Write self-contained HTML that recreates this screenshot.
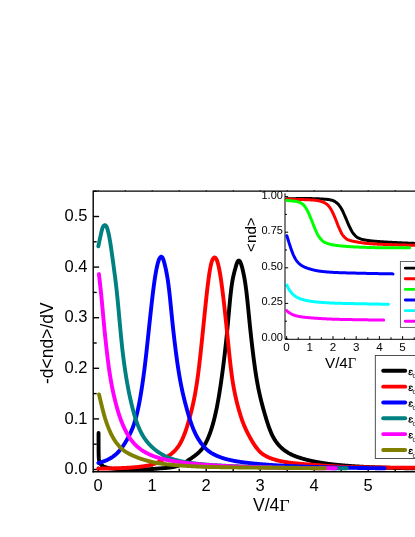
<!DOCTYPE html>
<html><head><meta charset="utf-8"><title>plot</title>
<style>html,body{margin:0;padding:0;background:#fff;}body{width:415px;height:537px;overflow:hidden;position:relative;}svg{position:absolute;left:0;top:0;display:block;will-change:transform;transform:translateZ(0);}text{font-family:"Liberation Sans",sans-serif;fill:#000;}.sf{font-family:"Liberation Serif",serif;}</style></head><body>
<svg width="415" height="537" viewBox="0 0 415 537">
<rect x="0" y="0" width="415" height="537" fill="#fff"/>
<g stroke="#000" stroke-width="1.4" fill="none" stroke-linecap="butt">
<path d="M93.2 472.4 L93.2 191.15 L416 191.15"/>
<path d="M92.5 471.7 L416 471.7"/>
<path d="M93.2 469.50 h5.9"/>
<path d="M93.2 444.20 h3.5"/>
<path d="M93.2 418.90 h5.9"/>
<path d="M93.2 393.60 h3.5"/>
<path d="M93.2 368.30 h5.9"/>
<path d="M93.2 343.00 h3.5"/>
<path d="M93.2 317.70 h5.9"/>
<path d="M93.2 292.40 h3.5"/>
<path d="M93.2 267.10 h5.9"/>
<path d="M93.2 241.80 h3.5"/>
<path d="M93.2 216.50 h5.9"/>
<path d="M93.2 191.20 h3.5"/>
<path d="M98.20 471.7 v-5.2"/>
<path d="M125.20 471.7 v-3.0"/>
<path d="M152.20 471.7 v-5.2"/>
<path d="M179.20 471.7 v-3.0"/>
<path d="M206.20 471.7 v-5.2"/>
<path d="M233.20 471.7 v-3.0"/>
<path d="M260.20 471.7 v-5.2"/>
<path d="M287.20 471.7 v-3.0"/>
<path d="M314.20 471.7 v-5.2"/>
<path d="M341.20 471.7 v-3.0"/>
<path d="M368.20 471.7 v-5.2"/>
<path d="M395.20 471.7 v-3.0"/>
</g>
<g stroke="#000" stroke-width="0.9" fill="none">
<path d="M98.20 191.15 v-1.1"/>
<path d="M125.20 191.15 v-1.1"/>
<path d="M152.20 191.15 v-1.1"/>
<path d="M179.20 191.15 v-1.1"/>
<path d="M206.20 191.15 v-1.1"/>
<path d="M233.20 191.15 v-1.1"/>
<path d="M260.20 191.15 v-1.1"/>
<path d="M287.20 191.15 v-1.1"/>
<path d="M314.20 191.15 v-1.1"/>
<path d="M341.20 191.15 v-1.1"/>
<path d="M368.20 191.15 v-1.1"/>
<path d="M395.20 191.15 v-1.1"/>
</g>
<g fill="none" stroke-linecap="round" stroke-linejoin="round" stroke-width="3.90">
<path d="M98.55 432.90 L98.55 433.40 L98.55 433.90 L98.55 434.40 L98.55 434.90 L98.55 435.40 L98.55 435.90 L98.55 436.40 L98.55 436.90 L98.55 437.40 L98.55 437.90 L98.56 438.40 L98.56 438.90 L98.56 439.40 L98.56 439.90 L98.56 440.40 L98.56 440.90 L98.56 441.40 L98.56 441.90 L98.57 442.40 L98.57 442.90 L98.57 443.40 L98.57 443.90 L98.57 444.40 L98.57 444.90 L98.58 445.40 L98.58 445.90 L98.58 446.40 L98.58 446.90 L98.59 447.40 L98.59 447.90 L98.59 448.40 L98.59 448.90 L98.60 449.40 L98.60 449.90 L98.60 450.40 L98.61 450.90 L98.61 451.40 L98.62 451.90 L98.63 452.40 L98.63 452.91 L98.64 453.41 L98.66 453.91 L98.67 454.41 L98.68 454.91 L98.70 455.41 L98.71 455.91 L98.73 456.41 L98.75 456.91 L98.77 457.40 L98.80 457.90 L98.83 458.40 L98.88 458.90 L98.94 459.40 L99.03 459.91 L99.13 460.41 L99.24 460.90 L99.36 461.39 L99.49 461.86 L99.64 462.31 L99.82 462.76 L100.06 463.21 L100.34 463.65 L100.65 464.08 L100.98 464.47 L101.32 464.83 L101.67 465.15 L102.04 465.45 L102.45 465.74 L102.88 466.01 L103.33 466.27 L103.80 466.50 L104.26 466.71 L104.73 466.90 L105.19 467.07 L105.65 467.22 L106.12 467.37 L106.60 467.52 L107.08 467.65 L107.57 467.79 L108.06 467.91 L108.55 468.03 L109.05 468.14 L109.54 468.24 L110.04 468.33 L110.54 468.42 L111.04 468.49 L111.53 468.55 L112.03 468.60 L112.52 468.65 L113.01 468.69 L113.51 468.74 L114.00 468.78 L114.50 468.82 L115.00 468.86 L115.50 468.90 L115.99 468.94 L116.49 468.97 L116.99 469.01 L117.49 469.04 L117.99 469.07 L118.49 469.10 L119.00 469.13 L119.50 469.15 L120.00 469.18 L120.50 469.20 L121.00 469.22 L121.50 469.24 L122.00 469.25 L122.51 469.27 L123.01 469.28 L123.51 469.29 L124.01 469.29 L124.51 469.30 L125.01 469.30 L125.51 469.30 L126.01 469.30 L126.51 469.30 L127.01 469.30 L127.51 469.30 L128.01 469.30 L128.51 469.30 L129.01 469.30 L129.51 469.30 L130.01 469.30 L130.51 469.30 L131.01 469.30 L131.51 469.30 L132.01 469.30 L132.51 469.30 L133.01 469.30 L133.51 469.30 L134.01 469.30 L134.51 469.30 L135.01 469.30 L135.51 469.30 L136.01 469.30 L136.51 469.30 L137.01 469.30 L137.51 469.30 L138.01 469.30 L138.51 469.30 L139.01 469.30 L139.51 469.30 L140.01 469.30 L140.51 469.30 L141.01 469.30 L141.51 469.30 L142.01 469.30 L142.51 469.30 L143.01 469.30 L143.51 469.30 L144.01 469.30 L144.51 469.30 L145.01 469.30 L145.51 469.30 L146.01 469.29 L146.51 469.29 L147.01 469.28 L147.50 469.26 L148.00 469.25 L148.50 469.23 L149.00 469.21 L149.50 469.19 L150.00 469.16 L150.50 469.13 L151.00 469.10 L151.50 469.07 L152.00 469.04 L152.50 469.01 L153.00 468.97 L153.50 468.94 L153.99 468.90 L154.49 468.86 L154.99 468.82 L155.49 468.78 L155.99 468.74 L156.49 468.69 L156.99 468.65 L157.49 468.61 L157.99 468.56 L158.48 468.52 L158.98 468.48 L159.48 468.43 L159.98 468.39 L160.00 468.39 L160.40 468.36 L160.80 468.34 L161.20 468.31 L161.60 468.29 L162.00 468.26 L162.40 468.23 L162.80 468.20 L163.20 468.18 L163.60 468.15 L164.00 468.11 L164.40 468.08 L164.80 468.05 L165.20 468.01 L165.60 467.98 L166.00 467.94 L166.40 467.91 L166.80 467.87 L167.20 467.83 L167.60 467.79 L168.00 467.75 L168.40 467.70 L168.80 467.66 L169.20 467.61 L169.60 467.56 L170.00 467.51 L170.40 467.46 L170.80 467.40 L171.20 467.34 L171.60 467.28 L172.00 467.22 L172.40 467.15 L172.80 467.08 L173.20 467.00 L173.60 466.93 L174.00 466.85 L174.40 466.76 L174.80 466.67 L175.20 466.58 L175.60 466.48 L176.00 466.38 L176.40 466.27 L176.80 466.16 L177.20 466.04 L177.60 465.92 L178.00 465.79 L178.40 465.65 L178.80 465.51 L179.20 465.37 L179.60 465.21 L180.00 465.05 L180.40 464.89 L180.80 464.71 L181.20 464.53 L181.60 464.34 L182.00 464.15 L182.40 463.94 L182.80 463.73 L183.20 463.52 L183.60 463.29 L184.00 463.06 L184.40 462.82 L184.80 462.58 L185.20 462.32 L185.60 462.07 L186.00 461.81 L186.40 461.54 L186.80 461.28 L187.20 461.01 L187.60 460.74 L188.00 460.47 L188.40 460.20 L188.80 459.93 L189.20 459.67 L189.60 459.40 L190.00 459.14 L190.40 458.87 L190.80 458.59 L191.20 458.32 L191.60 458.04 L192.00 457.76 L192.40 457.48 L192.80 457.19 L193.20 456.90 L193.60 456.61 L194.00 456.32 L194.40 456.02 L194.80 455.72 L195.20 455.41 L195.60 455.10 L196.00 454.79 L196.40 454.47 L196.80 454.14 L197.20 453.81 L197.60 453.46 L198.00 453.11 L198.40 452.75 L198.80 452.38 L199.20 452.00 L199.60 451.61 L200.00 451.20 L200.40 450.77 L200.80 450.33 L201.20 449.87 L201.60 449.39 L202.00 448.88 L202.40 448.35 L202.80 447.78 L203.20 447.20 L203.60 446.59 L204.00 445.95 L204.40 445.30 L204.80 444.62 L205.20 443.92 L205.60 443.19 L206.00 442.43 L206.40 441.65 L206.80 440.84 L207.20 439.99 L207.60 439.12 L208.00 438.21 L208.40 437.27 L208.80 436.30 L209.20 435.29 L209.60 434.24 L210.00 433.16 L210.40 432.04 L210.80 430.87 L211.20 429.67 L211.60 428.42 L212.00 427.13 L212.40 425.80 L212.80 424.41 L213.20 422.98 L213.60 421.50 L214.00 419.97 L214.40 418.38 L214.80 416.73 L215.20 415.02 L215.60 413.25 L216.00 411.42 L216.40 409.53 L216.80 407.57 L217.20 405.54 L217.60 403.44 L218.00 401.27 L218.40 399.03 L218.80 396.72 L219.20 394.33 L219.60 391.86 L220.00 389.31 L220.40 386.69 L220.80 383.98 L221.20 381.21 L221.60 378.38 L222.00 375.49 L222.40 372.54 L222.80 369.52 L223.20 366.43 L223.60 363.27 L224.00 360.03 L224.40 356.72 L224.80 353.31 L225.20 349.82 L225.60 346.23 L226.00 342.55 L226.40 338.77 L226.80 334.89 L227.20 330.85 L227.60 326.63 L228.00 322.27 L228.40 317.84 L228.80 313.37 L229.20 308.93 L229.60 304.59 L230.00 300.39 L230.40 296.40 L230.80 292.67 L231.20 289.25 L231.60 286.16 L232.00 283.43 L232.40 281.02 L232.80 278.87 L233.20 276.92 L233.60 275.14 L234.00 273.47 L234.40 271.89 L234.80 270.37 L235.20 268.89 L235.60 267.43 L236.00 266.01 L236.40 264.67 L236.80 263.47 L237.20 262.45 L237.60 261.64 L238.00 261.06 L238.40 260.71 L238.80 260.60 L239.20 260.71 L239.60 261.03 L240.00 261.55 L240.40 262.28 L240.80 263.20 L241.20 264.30 L241.60 265.58 L242.00 267.01 L242.40 268.56 L242.80 270.21 L243.20 271.97 L243.60 273.85 L244.00 275.85 L244.40 277.99 L244.80 280.30 L245.20 282.79 L245.60 285.49 L246.00 288.43 L246.40 291.63 L246.80 295.05 L247.20 298.67 L247.60 302.46 L248.00 306.38 L248.40 310.39 L248.80 314.44 L249.20 318.50 L249.60 322.53 L250.00 326.48 L250.40 330.34 L250.80 334.06 L251.20 337.68 L251.60 341.24 L252.00 344.73 L252.40 348.15 L252.80 351.49 L253.20 354.75 L253.60 357.92 L254.00 361.00 L254.40 363.98 L254.80 366.88 L255.20 369.67 L255.60 372.37 L256.00 374.97 L256.40 377.48 L256.80 379.89 L257.20 382.20 L257.60 384.40 L258.00 386.51 L258.40 388.54 L258.80 390.48 L259.20 392.36 L259.60 394.16 L260.00 395.91 L260.40 397.61 L260.80 399.26 L261.20 400.87 L261.60 402.44 L262.00 403.98 L262.40 405.49 L262.80 406.97 L263.20 408.43 L263.60 409.86 L264.00 411.28 L264.40 412.68 L264.80 414.07 L265.20 415.44 L265.60 416.80 L266.00 418.14 L266.40 419.47 L266.80 420.76 L267.20 422.03 L267.60 423.28 L268.00 424.49 L268.40 425.67 L268.80 426.81 L269.20 427.93 L269.60 429.00 L270.00 430.04 L270.40 431.05 L270.80 432.02 L271.20 432.96 L271.60 433.86 L272.00 434.72 L272.40 435.55 L272.80 436.35 L273.20 437.11 L273.60 437.84 L274.00 438.53 L274.40 439.20 L274.80 439.83 L275.20 440.44 L275.60 441.03 L276.00 441.59 L276.40 442.15 L276.80 442.68 L277.20 443.20 L277.60 443.70 L278.00 444.18 L278.40 444.65 L278.80 445.11 L279.20 445.55 L279.60 445.98 L280.00 446.40 L280.40 446.80 L280.80 447.20 L281.20 447.58 L281.60 447.95 L282.00 448.31 L282.40 448.66 L282.80 449.00 L283.20 449.34 L283.60 449.66 L284.00 449.97 L284.40 450.28 L284.80 450.58 L285.20 450.87 L285.60 451.15 L286.00 451.43 L286.40 451.70 L286.80 451.96 L287.20 452.21 L287.60 452.46 L288.00 452.71 L288.40 452.94 L288.80 453.18 L289.20 453.40 L289.60 453.62 L290.00 453.83 L290.40 454.04 L290.80 454.24 L291.20 454.44 L291.60 454.63 L292.00 454.82 L292.40 455.01 L292.80 455.18 L293.20 455.36 L293.60 455.53 L294.00 455.70 L294.40 455.86 L294.80 456.02 L295.20 456.18 L295.60 456.33 L296.00 456.48 L296.40 456.63 L296.80 456.78 L297.20 456.92 L297.60 457.06 L298.00 457.20 L298.40 457.33 L298.80 457.46 L299.20 457.59 L299.60 457.72 L300.00 457.85 L300.40 457.98 L300.80 458.10 L301.20 458.22 L301.60 458.34 L302.00 458.46 L302.40 458.57 L302.80 458.69 L303.20 458.80 L303.60 458.91 L304.00 459.02 L304.40 459.13 L304.80 459.24 L305.20 459.35 L305.60 459.46 L306.00 459.56 L306.40 459.67 L306.80 459.77 L307.20 459.87 L307.60 459.97 L308.00 460.07 L308.40 460.17 L308.80 460.27 L309.20 460.37 L309.60 460.46 L310.00 460.56 L310.40 460.65 L310.80 460.74 L311.20 460.83 L311.60 460.92 L312.00 461.01 L312.40 461.10 L312.80 461.18 L313.20 461.27 L313.60 461.35 L314.00 461.44 L314.40 461.52 L314.80 461.60 L315.20 461.68 L315.60 461.76 L316.00 461.83 L316.40 461.91 L316.80 461.98 L317.20 462.06 L317.60 462.13 L318.00 462.20 L318.40 462.28 L318.80 462.35 L319.20 462.42 L319.60 462.49 L320.00 462.55 L320.40 462.62 L320.80 462.69 L321.20 462.75 L321.60 462.82 L322.00 462.88 L322.40 462.95 L322.80 463.01 L323.20 463.07 L323.60 463.13 L324.00 463.19 L324.40 463.25 L324.80 463.31 L325.20 463.37 L325.60 463.43 L326.00 463.48 L326.40 463.54 L326.80 463.59 L327.20 463.65 L327.60 463.70 L328.00 463.76 L328.40 463.81 L328.80 463.86 L329.20 463.91 L329.60 463.96 L330.00 464.02 L330.40 464.07 L330.80 464.11 L331.20 464.16 L331.60 464.21 L332.00 464.26 L332.40 464.31 L332.80 464.35 L333.20 464.40 L333.60 464.45 L334.00 464.49 L334.40 464.54 L334.80 464.58 L335.20 464.62 L335.60 464.67 L336.00 464.71 L336.40 464.75 L336.80 464.80 L337.20 464.84 L337.60 464.88 L338.00 464.92 L338.40 464.96 L338.80 465.00 L339.20 465.04 L339.60 465.08 L340.00 465.12 L340.40 465.15 L340.80 465.19 L341.20 465.23 L341.60 465.27 L342.00 465.30 L342.40 465.34 L342.80 465.38 L343.20 465.41 L343.60 465.45 L344.00 465.48 L344.40 465.52 L344.80 465.55 L345.20 465.58 L345.60 465.62 L346.00 465.65 L346.40 465.68 L346.80 465.72 L347.20 465.75 L347.60 465.78 L348.00 465.81 L348.40 465.84 L348.80 465.87 L349.20 465.90 L349.60 465.93 L350.00 465.96 L350.40 465.99 L350.80 466.02 L351.20 466.05 L351.60 466.08 L352.00 466.11 L352.40 466.13 L352.80 466.16 L353.20 466.19 L353.60 466.22 L354.00 466.24 L354.40 466.27 L354.80 466.30 L355.20 466.32 L355.60 466.35 L356.00 466.37 L356.40 466.40 L356.80 466.42 L357.20 466.45 L357.60 466.47 L358.00 466.50 L358.40 466.52 L358.80 466.55 L359.20 466.57 L359.60 466.59 L360.00 466.62 L360.40 466.64 L360.80 466.66 L361.20 466.68 L361.60 466.71 L362.00 466.73 L362.40 466.75 L362.80 466.77 L363.20 466.79 L363.60 466.81 L364.00 466.83 L364.40 466.85 L364.80 466.87 L365.20 466.89 L365.60 466.91 L366.00 466.93 L366.40 466.95 L366.80 466.97 L367.20 466.99 L367.60 467.01 L368.00 467.03 L368.40 467.05 L368.80 467.07 L369.20 467.09 L369.60 467.10 L370.00 467.12 L370.40 467.14 L370.80 467.16 L371.20 467.17 L371.60 467.19 L372.00 467.21 L372.40 467.23 L372.80 467.24 L373.20 467.26 L373.60 467.27 L374.00 467.29 L374.40 467.31 L374.80 467.32 L375.20 467.34 L375.60 467.35 L376.00 467.37 L376.40 467.39 L376.80 467.40 L377.20 467.42 L377.60 467.43 L378.00 467.44 L378.40 467.46 L378.80 467.47 L379.20 467.49 L379.60 467.50 L380.00 467.52 L380.40 467.53 L380.80 467.54 L381.20 467.56 L381.60 467.57 L382.00 467.58 L382.40 467.60 L382.80 467.61 L383.20 467.62 L383.60 467.64 L384.00 467.65 L384.40 467.66 L384.80 467.68 L385.20 467.69 L385.60 467.70 L386.00 467.71 L386.40 467.72 L386.80 467.74 L387.20 467.75 L387.60 467.76 L388.00 467.77 L388.40 467.78 L388.80 467.80 L389.20 467.81 L389.60 467.82 L390.00 467.83 L390.40 467.84 L390.80 467.85 L391.20 467.86 L391.60 467.87 L392.00 467.88 L392.40 467.90 L392.80 467.91 L393.20 467.92 L393.60 467.93 L394.00 467.94 L394.40 467.95 L394.80 467.96 L395.20 467.97 L395.60 467.98 L396.00 467.99 L396.40 468.00 L396.80 468.01 L397.20 468.02 L397.60 468.03 L398.00 468.04 L398.40 468.05 L398.80 468.06 L399.20 468.06 L399.60 468.07 L400.00 468.08 L400.40 468.09 L400.80 468.10 L401.20 468.11 L401.60 468.12 L402.00 468.13 L402.40 468.14 L402.80 468.15 L403.20 468.15 L403.60 468.16 L404.00 468.17 L404.40 468.18 L404.80 468.19 L405.20 468.20 L405.60 468.20 L406.00 468.21 L406.40 468.22 L406.80 468.23 L407.20 468.24 L407.60 468.24 L408.00 468.25 L408.40 468.26 L408.80 468.27 L409.20 468.27 L409.60 468.28 L410.00 468.29 L410.40 468.30 L410.80 468.30 L411.20 468.31 L411.60 468.32 L412.00 468.33 L412.40 468.33 L412.80 468.34 L413.20 468.35 L413.60 468.35 L414.00 468.36 L414.40 468.37 L414.80 468.37 L415.20 468.38 L415.60 468.39 L416.00 468.39" stroke="#000000"/>
<path d="M98.30 468.65 L98.70 468.64 L99.10 468.64 L99.50 468.63 L99.90 468.62 L100.30 468.62 L100.70 468.61 L101.10 468.60 L101.50 468.60 L101.90 468.59 L102.30 468.58 L102.70 468.57 L103.10 468.57 L103.50 468.56 L103.90 468.55 L104.30 468.54 L104.70 468.54 L105.10 468.53 L105.50 468.52 L105.90 468.51 L106.30 468.50 L106.70 468.50 L107.10 468.49 L107.50 468.48 L107.90 468.47 L108.30 468.46 L108.70 468.45 L109.10 468.44 L109.50 468.44 L109.90 468.43 L110.30 468.42 L110.70 468.41 L111.10 468.40 L111.50 468.39 L111.90 468.38 L112.30 468.37 L112.70 468.36 L113.10 468.35 L113.50 468.34 L113.90 468.33 L114.30 468.31 L114.70 468.30 L115.10 468.29 L115.50 468.28 L115.90 468.27 L116.30 468.26 L116.70 468.24 L117.10 468.23 L117.50 468.22 L117.90 468.20 L118.30 468.19 L118.70 468.18 L119.10 468.16 L119.50 468.15 L119.90 468.13 L120.30 468.12 L120.70 468.10 L121.10 468.09 L121.50 468.07 L121.90 468.05 L122.30 468.04 L122.70 468.02 L123.10 468.00 L123.50 467.98 L123.90 467.96 L124.30 467.95 L124.70 467.93 L125.10 467.91 L125.50 467.89 L125.90 467.87 L126.30 467.84 L126.70 467.82 L127.10 467.80 L127.50 467.78 L127.90 467.75 L128.30 467.73 L128.70 467.71 L129.10 467.68 L129.50 467.66 L129.90 467.63 L130.30 467.60 L130.70 467.58 L131.10 467.55 L131.50 467.52 L131.90 467.49 L132.30 467.46 L132.70 467.43 L133.10 467.40 L133.50 467.37 L133.90 467.33 L134.30 467.30 L134.70 467.27 L135.10 467.23 L135.50 467.20 L135.90 467.16 L136.30 467.12 L136.70 467.08 L137.10 467.05 L137.50 467.01 L137.90 466.96 L138.30 466.92 L138.70 466.88 L139.10 466.84 L139.50 466.79 L139.90 466.74 L140.30 466.70 L140.70 466.65 L141.10 466.60 L141.50 466.55 L141.90 466.50 L142.30 466.45 L142.70 466.39 L143.10 466.34 L143.50 466.28 L143.90 466.22 L144.30 466.16 L144.70 466.10 L145.10 466.04 L145.50 465.98 L145.90 465.91 L146.30 465.84 L146.70 465.77 L147.10 465.69 L147.50 465.62 L147.90 465.54 L148.30 465.45 L148.70 465.37 L149.10 465.28 L149.50 465.19 L149.90 465.09 L150.30 464.99 L150.70 464.89 L151.10 464.78 L151.50 464.67 L151.90 464.56 L152.30 464.44 L152.70 464.32 L153.10 464.20 L153.50 464.07 L153.90 463.93 L154.30 463.80 L154.70 463.65 L155.10 463.51 L155.50 463.36 L155.90 463.20 L156.30 463.04 L156.70 462.87 L157.10 462.70 L157.50 462.53 L157.90 462.35 L158.30 462.16 L158.70 461.97 L159.10 461.78 L159.50 461.58 L159.90 461.37 L160.30 461.16 L160.70 460.95 L161.10 460.73 L161.50 460.50 L161.90 460.27 L162.30 460.04 L162.70 459.81 L163.10 459.57 L163.50 459.33 L163.90 459.08 L164.30 458.83 L164.70 458.58 L165.10 458.33 L165.50 458.08 L165.90 457.82 L166.30 457.56 L166.70 457.29 L167.10 457.02 L167.50 456.75 L167.90 456.47 L168.30 456.19 L168.70 455.90 L169.10 455.61 L169.50 455.31 L169.90 455.01 L170.30 454.70 L170.70 454.38 L171.10 454.06 L171.50 453.73 L171.90 453.40 L172.30 453.05 L172.70 452.70 L173.10 452.34 L173.50 451.97 L173.90 451.59 L174.30 451.20 L174.70 450.79 L175.10 450.38 L175.50 449.94 L175.90 449.50 L176.30 449.04 L176.70 448.55 L177.10 448.06 L177.50 447.54 L177.90 446.99 L178.30 446.43 L178.70 445.83 L179.10 445.22 L179.50 444.57 L179.90 443.90 L180.30 443.20 L180.70 442.48 L181.10 441.72 L181.50 440.94 L181.90 440.13 L182.30 439.28 L182.70 438.40 L183.10 437.49 L183.50 436.55 L183.90 435.57 L184.30 434.56 L184.70 433.51 L185.10 432.43 L185.50 431.31 L185.90 430.16 L186.30 428.97 L186.70 427.75 L187.10 426.49 L187.50 425.20 L187.90 423.88 L188.30 422.53 L188.70 421.15 L189.10 419.74 L189.50 418.30 L189.90 416.83 L190.30 415.34 L190.70 413.81 L191.10 412.24 L191.50 410.64 L191.90 408.99 L192.30 407.30 L192.70 405.56 L193.10 403.76 L193.50 401.90 L193.90 399.98 L194.30 397.99 L194.70 395.92 L195.10 393.77 L195.50 391.52 L195.90 389.18 L196.30 386.72 L196.70 384.15 L197.10 381.45 L197.50 378.64 L197.90 375.70 L198.30 372.65 L198.70 369.48 L199.10 366.20 L199.50 362.82 L199.90 359.33 L200.30 355.75 L200.70 352.09 L201.10 348.36 L201.50 344.57 L201.90 340.73 L202.30 336.87 L202.70 332.99 L203.10 329.08 L203.50 325.15 L203.90 321.20 L204.30 317.25 L204.70 313.31 L205.10 309.40 L205.50 305.53 L205.90 301.71 L206.30 297.97 L206.70 294.32 L207.10 290.78 L207.50 287.36 L207.90 284.07 L208.30 280.91 L208.70 277.90 L209.10 275.05 L209.50 272.40 L209.90 269.96 L210.30 267.75 L210.70 265.76 L211.10 264.01 L211.50 262.50 L211.90 261.22 L212.30 260.17 L212.70 259.31 L213.10 258.63 L213.50 258.11 L213.90 257.75 L214.30 257.55 L214.70 257.51 L215.10 257.63 L215.50 257.93 L215.90 258.40 L216.30 259.03 L216.70 259.84 L217.10 260.82 L217.50 262.00 L217.90 263.36 L218.30 264.89 L218.70 266.60 L219.10 268.48 L219.50 270.53 L219.90 272.75 L220.30 275.13 L220.70 277.66 L221.10 280.36 L221.50 283.19 L221.90 286.17 L222.30 289.26 L222.70 292.46 L223.10 295.75 L223.50 299.14 L223.90 302.60 L224.30 306.14 L224.70 309.74 L225.10 313.40 L225.50 317.11 L225.90 320.86 L226.30 324.64 L226.70 328.45 L227.10 332.33 L227.50 336.29 L227.90 340.28 L228.30 344.28 L228.70 348.25 L229.10 352.16 L229.50 355.98 L229.90 359.70 L230.30 363.29 L230.70 366.74 L231.10 370.04 L231.50 373.17 L231.90 376.13 L232.30 378.91 L232.70 381.51 L233.10 383.97 L233.50 386.31 L233.90 388.53 L234.30 390.66 L234.70 392.69 L235.10 394.63 L235.50 396.50 L235.90 398.29 L236.30 400.02 L236.70 401.69 L237.10 403.30 L237.50 404.87 L237.90 406.38 L238.30 407.86 L238.70 409.30 L239.10 410.70 L239.50 412.07 L239.90 413.41 L240.30 414.72 L240.70 416.01 L241.10 417.26 L241.50 418.47 L241.90 419.63 L242.30 420.75 L242.70 421.84 L243.10 422.89 L243.50 423.91 L243.90 424.91 L244.30 425.87 L244.70 426.81 L245.10 427.73 L245.50 428.63 L245.90 429.50 L246.30 430.35 L246.70 431.19 L247.10 432.01 L247.50 432.81 L247.90 433.60 L248.30 434.37 L248.70 435.13 L249.10 435.88 L249.50 436.61 L249.90 437.34 L250.30 438.05 L250.70 438.75 L251.10 439.45 L251.50 440.14 L251.90 440.82 L252.30 441.50 L252.70 442.16 L253.10 442.82 L253.50 443.46 L253.90 444.09 L254.30 444.71 L254.70 445.31 L255.10 445.90 L255.50 446.47 L255.90 447.02 L256.30 447.56 L256.70 448.09 L257.10 448.59 L257.50 449.09 L257.90 449.56 L258.30 450.02 L258.70 450.47 L259.10 450.89 L259.50 451.31 L259.90 451.70 L260.30 452.09 L260.70 452.45 L261.10 452.81 L261.50 453.15 L261.90 453.47 L262.30 453.78 L262.70 454.08 L263.10 454.37 L263.50 454.64 L263.90 454.90 L264.30 455.15 L264.70 455.39 L265.10 455.61 L265.50 455.84 L265.90 456.05 L266.30 456.26 L266.70 456.47 L267.10 456.67 L267.50 456.86 L267.90 457.05 L268.30 457.23 L268.70 457.41 L269.10 457.59 L269.50 457.75 L269.90 457.92 L270.30 458.08 L270.70 458.24 L271.10 458.39 L271.50 458.54 L271.90 458.69 L272.30 458.83 L272.70 458.97 L273.10 459.10 L273.50 459.23 L273.90 459.36 L274.30 459.49 L274.70 459.61 L275.10 459.73 L275.50 459.85 L275.90 459.96 L276.30 460.07 L276.70 460.18 L277.10 460.29 L277.50 460.39 L277.90 460.49 L278.30 460.59 L278.70 460.69 L279.10 460.79 L279.50 460.88 L279.90 460.97 L280.30 461.06 L280.70 461.14 L281.10 461.23 L281.50 461.31 L281.90 461.39 L282.30 461.47 L282.70 461.55 L283.10 461.63 L283.50 461.70 L283.90 461.77 L284.30 461.84 L284.70 461.91 L285.10 461.98 L285.50 462.05 L285.90 462.11 L286.30 462.17 L286.70 462.24 L287.10 462.30 L287.50 462.36 L287.90 462.41 L288.30 462.47 L288.70 462.53 L289.10 462.58 L289.50 462.63 L289.90 462.69 L290.30 462.74 L290.70 462.79 L291.10 462.84 L291.50 462.89 L291.90 462.93 L292.30 462.98 L292.70 463.03 L293.10 463.07 L293.50 463.12 L293.90 463.16 L294.30 463.20 L294.70 463.25 L295.10 463.29 L295.50 463.33 L295.90 463.37 L296.30 463.41 L296.70 463.45 L297.10 463.49 L297.50 463.53 L297.90 463.56 L298.30 463.60 L298.70 463.64 L299.10 463.68 L299.50 463.71 L299.90 463.75 L300.30 463.78 L300.70 463.82 L301.10 463.85 L301.50 463.89 L301.90 463.92 L302.30 463.96 L302.70 463.99 L303.10 464.03 L303.50 464.06 L303.90 464.09 L304.30 464.12 L304.70 464.16 L305.10 464.19 L305.50 464.22 L305.90 464.25 L306.30 464.29 L306.70 464.32 L307.10 464.35 L307.50 464.38 L307.90 464.41 L308.30 464.45 L308.70 464.48 L309.10 464.51 L309.50 464.54 L309.90 464.57 L310.30 464.60 L310.70 464.63 L311.10 464.66 L311.50 464.69 L311.90 464.72 L312.30 464.76 L312.70 464.79 L313.10 464.82 L313.50 464.85 L313.90 464.88 L314.30 464.91 L314.70 464.94 L315.10 464.97 L315.50 465.00 L315.90 465.03 L316.30 465.06 L316.70 465.09 L317.10 465.13 L317.50 465.16 L317.90 465.19 L318.30 465.22 L318.70 465.25 L319.10 465.28 L319.50 465.31 L319.90 465.34 L320.30 465.37 L320.70 465.41 L321.10 465.44 L321.50 465.47 L321.90 465.50 L322.30 465.53 L322.70 465.56 L323.10 465.59 L323.50 465.62 L323.90 465.65 L324.30 465.68 L324.70 465.71 L325.10 465.74 L325.50 465.76 L325.90 465.79 L326.30 465.82 L326.70 465.85 L327.10 465.88 L327.50 465.91 L327.90 465.93 L328.30 465.96 L328.70 465.99 L329.10 466.01 L329.50 466.04 L329.90 466.07 L330.30 466.09 L330.70 466.12 L331.10 466.14 L331.50 466.17 L331.90 466.19 L332.30 466.22 L332.70 466.24 L333.10 466.27 L333.50 466.29 L333.90 466.31 L334.30 466.34 L334.70 466.36 L335.10 466.38 L335.50 466.40 L335.90 466.43 L336.30 466.45 L336.70 466.47 L337.10 466.49 L337.50 466.51 L337.90 466.53 L338.30 466.55 L338.70 466.57 L339.10 466.59 L339.50 466.61 L339.90 466.63 L340.30 466.65 L340.70 466.67 L341.10 466.68 L341.50 466.70 L341.90 466.72 L342.30 466.74 L342.70 466.75 L343.10 466.77 L343.50 466.79 L343.90 466.80 L344.30 466.82 L344.70 466.83 L345.10 466.85 L345.50 466.86 L345.90 466.88 L346.30 466.89 L346.70 466.91 L347.10 466.92 L347.50 466.93 L347.90 466.95 L348.30 466.96 L348.70 466.97 L349.10 466.98 L349.50 467.00 L349.90 467.01 L350.30 467.02 L350.70 467.03 L351.10 467.04 L351.50 467.05 L351.90 467.06 L352.30 467.07 L352.70 467.08 L353.10 467.09 L353.50 467.10 L353.90 467.11 L354.30 467.12 L354.70 467.13 L355.10 467.13 L355.50 467.14 L355.90 467.15 L356.30 467.16 L356.70 467.17 L357.10 467.17 L357.50 467.18 L357.90 467.19 L358.30 467.20 L358.70 467.20 L359.10 467.21 L359.50 467.22 L359.90 467.23 L360.30 467.23 L360.70 467.24 L361.10 467.25 L361.50 467.26 L361.90 467.26 L362.30 467.27 L362.70 467.28 L363.10 467.28 L363.50 467.29 L363.90 467.30 L364.30 467.30 L364.70 467.31 L365.10 467.32 L365.50 467.32 L365.90 467.33 L366.30 467.33 L366.70 467.34 L367.10 467.35 L367.50 467.35 L367.90 467.36 L368.30 467.36 L368.70 467.37 L369.10 467.38 L369.50 467.38 L369.90 467.39 L370.30 467.39 L370.70 467.40 L371.10 467.40 L371.50 467.41 L371.90 467.41 L372.30 467.42 L372.70 467.43 L373.10 467.43 L373.50 467.44 L373.90 467.44 L374.30 467.45 L374.70 467.45 L375.10 467.46 L375.50 467.46 L375.90 467.46 L376.30 467.47 L376.70 467.47 L377.10 467.48 L377.50 467.48 L377.90 467.49 L378.30 467.49 L378.70 467.50 L379.10 467.50 L379.50 467.51 L379.90 467.51 L380.30 467.51 L380.70 467.52 L381.10 467.52 L381.50 467.53 L381.90 467.53 L382.30 467.53 L382.70 467.54 L383.10 467.54 L383.50 467.55 L383.90 467.55 L384.30 467.55 L384.70 467.56 L385.10 467.56 L385.50 467.56 L385.90 467.57 L386.30 467.57 L386.70 467.57 L387.10 467.58 L387.50 467.58 L387.90 467.58 L388.30 467.59 L388.70 467.59 L389.10 467.59 L389.50 467.60 L389.90 467.60 L390.30 467.60 L390.70 467.60 L391.10 467.61 L391.50 467.61 L391.90 467.61 L392.30 467.62 L392.70 467.62 L393.10 467.62 L393.50 467.62 L393.90 467.63 L394.30 467.63 L394.70 467.63 L395.10 467.63 L395.50 467.64 L395.90 467.64 L396.30 467.64 L396.70 467.64 L397.10 467.65 L397.50 467.65 L397.90 467.65 L398.30 467.65 L398.70 467.66 L399.10 467.66 L399.50 467.66 L399.90 467.66 L400.30 467.66 L400.70 467.67 L401.10 467.67 L401.50 467.67 L401.90 467.67 L402.30 467.67 L402.70 467.68 L403.10 467.68 L403.50 467.68 L403.90 467.68 L404.30 467.69 L404.70 467.69 L405.10 467.69 L405.50 467.69 L405.90 467.69 L406.30 467.69 L406.70 467.70 L407.10 467.70 L407.50 467.70 L407.90 467.70 L408.30 467.70 L408.70 467.71 L409.10 467.71 L409.50 467.71 L409.90 467.71 L410.30 467.71 L410.70 467.71 L411.10 467.71 L411.50 467.72 L411.90 467.72 L412.30 467.72 L412.70 467.72 L413.10 467.72 L413.50 467.72 L413.90 467.72 L414.30 467.73 L414.70 467.73 L415.10 467.73 L415.50 467.73 L415.90 467.73 L416.00 467.73" stroke="#ff0000"/>
<path d="M98.40 463.07 L98.80 462.96 L99.20 462.85 L99.60 462.73 L100.00 462.61 L100.40 462.49 L100.80 462.37 L101.20 462.24 L101.60 462.11 L102.00 461.98 L102.40 461.84 L102.80 461.70 L103.20 461.56 L103.60 461.41 L104.00 461.26 L104.40 461.11 L104.80 460.95 L105.20 460.79 L105.60 460.62 L106.00 460.45 L106.40 460.28 L106.80 460.10 L107.20 459.91 L107.60 459.73 L108.00 459.53 L108.40 459.33 L108.80 459.13 L109.20 458.92 L109.60 458.70 L110.00 458.48 L110.40 458.26 L110.80 458.02 L111.20 457.78 L111.60 457.54 L112.00 457.28 L112.40 457.02 L112.80 456.74 L113.20 456.46 L113.60 456.17 L114.00 455.87 L114.40 455.56 L114.80 455.24 L115.20 454.91 L115.60 454.58 L116.00 454.22 L116.40 453.86 L116.80 453.49 L117.20 453.11 L117.60 452.71 L118.00 452.30 L118.40 451.88 L118.80 451.45 L119.20 451.00 L119.60 450.55 L120.00 450.07 L120.40 449.59 L120.80 449.09 L121.20 448.58 L121.60 448.05 L122.00 447.51 L122.40 446.96 L122.80 446.39 L123.20 445.81 L123.60 445.22 L124.00 444.61 L124.40 443.99 L124.80 443.35 L125.20 442.70 L125.60 442.04 L126.00 441.37 L126.40 440.69 L126.80 440.00 L127.20 439.29 L127.60 438.57 L128.00 437.84 L128.40 437.09 L128.80 436.32 L129.20 435.54 L129.60 434.74 L130.00 433.92 L130.40 433.08 L130.80 432.21 L131.20 431.31 L131.60 430.39 L132.00 429.44 L132.40 428.45 L132.80 427.42 L133.20 426.36 L133.60 425.25 L134.00 424.09 L134.40 422.88 L134.80 421.62 L135.20 420.29 L135.60 418.90 L136.00 417.44 L136.40 415.92 L136.80 414.34 L137.20 412.68 L137.60 410.95 L138.00 409.15 L138.40 407.27 L138.80 405.32 L139.20 403.28 L139.60 401.17 L140.00 398.98 L140.40 396.70 L140.80 394.35 L141.20 391.91 L141.60 389.38 L142.00 386.78 L142.40 384.10 L142.80 381.33 L143.20 378.50 L143.60 375.58 L144.00 372.55 L144.40 369.43 L144.80 366.20 L145.20 362.88 L145.60 359.47 L146.00 355.98 L146.40 352.41 L146.80 348.78 L147.20 345.09 L147.60 341.35 L148.00 337.59 L148.40 333.81 L148.80 330.02 L149.20 326.25 L149.60 322.51 L150.00 318.77 L150.40 315.05 L150.80 311.37 L151.20 307.74 L151.60 304.15 L152.00 300.64 L152.40 297.20 L152.80 293.85 L153.20 290.61 L153.60 287.47 L154.00 284.46 L154.40 281.58 L154.80 278.85 L155.20 276.28 L155.60 273.86 L156.00 271.61 L156.40 269.50 L156.80 267.55 L157.20 265.74 L157.60 264.09 L158.00 262.59 L158.40 261.25 L158.80 260.09 L159.20 259.11 L159.60 258.30 L160.00 257.65 L160.40 257.17 L160.80 256.85 L161.20 256.71 L161.60 256.76 L162.00 257.02 L162.40 257.52 L162.80 258.24 L163.20 259.20 L163.60 260.35 L164.00 261.69 L164.40 263.16 L164.80 264.74 L165.20 266.41 L165.60 268.17 L166.00 270.03 L166.40 272.00 L166.80 274.10 L167.20 276.35 L167.60 278.78 L168.00 281.41 L168.40 284.28 L168.80 287.40 L169.20 290.76 L169.60 294.33 L170.00 298.07 L170.40 301.95 L170.80 305.93 L171.20 309.96 L171.60 314.00 L172.00 318.01 L172.40 321.95 L172.80 325.79 L173.20 329.49 L173.60 333.06 L174.00 336.55 L174.40 339.97 L174.80 343.31 L175.20 346.58 L175.60 349.76 L176.00 352.86 L176.40 355.87 L176.80 358.80 L177.20 361.65 L177.60 364.42 L178.00 367.11 L178.40 369.71 L178.80 372.24 L179.20 374.69 L179.60 377.06 L180.00 379.34 L180.40 381.52 L180.80 383.63 L181.20 385.66 L181.60 387.62 L182.00 389.52 L182.40 391.36 L182.80 393.15 L183.20 394.89 L183.60 396.59 L184.00 398.25 L184.40 399.86 L184.80 401.45 L185.20 403.00 L185.60 404.53 L186.00 406.03 L186.40 407.51 L186.80 408.97 L187.20 410.40 L187.60 411.82 L188.00 413.21 L188.40 414.58 L188.80 415.92 L189.20 417.23 L189.60 418.51 L190.00 419.77 L190.40 420.99 L190.80 422.18 L191.20 423.34 L191.60 424.47 L192.00 425.57 L192.40 426.64 L192.80 427.67 L193.20 428.68 L193.60 429.65 L194.00 430.60 L194.40 431.51 L194.80 432.39 L195.20 433.25 L195.60 434.07 L196.00 434.87 L196.40 435.64 L196.80 436.39 L197.20 437.11 L197.60 437.80 L198.00 438.48 L198.40 439.14 L198.80 439.79 L199.20 440.41 L199.60 441.03 L200.00 441.62 L200.40 442.20 L200.80 442.77 L201.20 443.32 L201.60 443.85 L202.00 444.37 L202.40 444.88 L202.80 445.37 L203.20 445.84 L203.60 446.31 L204.00 446.76 L204.40 447.19 L204.80 447.62 L205.20 448.03 L205.60 448.42 L206.00 448.81 L206.40 449.18 L206.80 449.55 L207.20 449.90 L207.60 450.24 L208.00 450.57 L208.40 450.89 L208.80 451.20 L209.20 451.50 L209.60 451.79 L210.00 452.07 L210.40 452.34 L210.80 452.60 L211.20 452.86 L211.60 453.10 L212.00 453.34 L212.40 453.58 L212.80 453.81 L213.20 454.03 L213.60 454.24 L214.00 454.46 L214.40 454.66 L214.80 454.86 L215.20 455.06 L215.60 455.25 L216.00 455.44 L216.40 455.62 L216.80 455.80 L217.20 455.98 L217.60 456.15 L218.00 456.32 L218.40 456.48 L218.80 456.64 L219.20 456.80 L219.60 456.95 L220.00 457.10 L220.40 457.25 L220.80 457.39 L221.20 457.53 L221.60 457.67 L222.00 457.80 L222.40 457.94 L222.80 458.07 L223.20 458.19 L223.60 458.32 L224.00 458.44 L224.40 458.56 L224.80 458.68 L225.20 458.79 L225.60 458.90 L226.00 459.01 L226.40 459.12 L226.80 459.23 L227.20 459.33 L227.60 459.43 L228.00 459.53 L228.40 459.63 L228.80 459.73 L229.20 459.83 L229.60 459.92 L230.00 460.01 L230.40 460.10 L230.80 460.19 L231.20 460.28 L231.60 460.36 L232.00 460.45 L232.40 460.53 L232.80 460.61 L233.20 460.69 L233.60 460.77 L234.00 460.84 L234.40 460.92 L234.80 460.99 L235.20 461.06 L235.60 461.14 L236.00 461.21 L236.40 461.27 L236.80 461.34 L237.20 461.41 L237.60 461.47 L238.00 461.54 L238.40 461.60 L238.80 461.67 L239.20 461.73 L239.60 461.79 L240.00 461.85 L240.40 461.91 L240.80 461.97 L241.20 462.02 L241.60 462.08 L242.00 462.14 L242.40 462.19 L242.80 462.24 L243.20 462.30 L243.60 462.35 L244.00 462.40 L244.40 462.45 L244.80 462.51 L245.20 462.56 L245.60 462.61 L246.00 462.65 L246.40 462.70 L246.80 462.75 L247.20 462.80 L247.60 462.84 L248.00 462.89 L248.40 462.94 L248.80 462.98 L249.20 463.03 L249.60 463.07 L250.00 463.12 L250.40 463.16 L250.80 463.20 L251.20 463.24 L251.60 463.29 L252.00 463.33 L252.40 463.37 L252.80 463.41 L253.20 463.45 L253.60 463.49 L254.00 463.53 L254.40 463.57 L254.80 463.61 L255.20 463.65 L255.60 463.69 L256.00 463.72 L256.40 463.76 L256.80 463.80 L257.20 463.84 L257.60 463.87 L258.00 463.91 L258.40 463.95 L258.80 463.98 L259.20 464.02 L259.60 464.06 L260.00 464.09 L260.40 464.13 L260.80 464.16 L261.20 464.20 L261.60 464.23 L262.00 464.27 L262.40 464.30 L262.80 464.33 L263.20 464.37 L263.60 464.40 L264.00 464.43 L264.40 464.46 L264.80 464.50 L265.20 464.53 L265.60 464.56 L266.00 464.59 L266.40 464.62 L266.80 464.65 L267.20 464.68 L267.60 464.71 L268.00 464.74 L268.40 464.77 L268.80 464.80 L269.20 464.83 L269.60 464.86 L270.00 464.88 L270.40 464.91 L270.80 464.94 L271.20 464.97 L271.60 465.00 L272.00 465.02 L272.40 465.05 L272.80 465.08 L273.20 465.10 L273.60 465.13 L274.00 465.16 L274.40 465.18 L274.80 465.21 L275.20 465.23 L275.60 465.26 L276.00 465.28 L276.40 465.31 L276.80 465.33 L277.20 465.35 L277.60 465.38 L278.00 465.40 L278.40 465.43 L278.80 465.45 L279.20 465.47 L279.60 465.50 L280.00 465.52 L280.40 465.54 L280.80 465.56 L281.20 465.59 L281.60 465.61 L282.00 465.63 L282.40 465.65 L282.80 465.67 L283.20 465.70 L283.60 465.72 L284.00 465.74 L284.40 465.76 L284.80 465.78 L285.20 465.80 L285.60 465.82 L286.00 465.84 L286.40 465.86 L286.80 465.88 L287.20 465.90 L287.60 465.92 L288.00 465.94 L288.40 465.96 L288.80 465.98 L289.20 466.00 L289.60 466.02 L290.00 466.04 L290.40 466.05 L290.80 466.07 L291.20 466.09 L291.60 466.11 L292.00 466.13 L292.40 466.15 L292.80 466.16 L293.20 466.18 L293.60 466.20 L294.00 466.22 L294.40 466.23 L294.80 466.25 L295.20 466.27 L295.60 466.29 L296.00 466.30 L296.40 466.32 L296.80 466.34 L297.20 466.35 L297.60 466.37 L298.00 466.39 L298.40 466.40 L298.80 466.42 L299.20 466.43 L299.60 466.45 L300.00 466.46 L300.40 466.48 L300.80 466.50 L301.20 466.51 L301.60 466.53 L302.00 466.54 L302.40 466.56 L302.80 466.57 L303.20 466.59 L303.60 466.60 L304.00 466.62 L304.40 466.63 L304.80 466.65 L305.20 466.66 L305.60 466.67 L306.00 466.69 L306.40 466.70 L306.80 466.72 L307.20 466.73 L307.60 466.74 L308.00 466.76 L308.40 466.77 L308.80 466.78 L309.20 466.80 L309.60 466.81 L310.00 466.82 L310.40 466.84 L310.80 466.85 L311.20 466.86 L311.60 466.88 L312.00 466.89 L312.40 466.90 L312.80 466.91 L313.20 466.93 L313.60 466.94 L314.00 466.95 L314.40 466.96 L314.80 466.98 L315.20 466.99 L315.60 467.00 L316.00 467.01 L316.40 467.02 L316.80 467.04 L317.20 467.05 L317.60 467.06 L318.00 467.07 L318.40 467.08 L318.80 467.09 L319.20 467.11 L319.60 467.12 L320.00 467.13 L320.40 467.14 L320.80 467.15 L321.20 467.16 L321.60 467.17 L322.00 467.18 L322.40 467.19 L322.80 467.20 L323.20 467.22 L323.60 467.23 L324.00 467.24 L324.40 467.25 L324.80 467.26 L325.20 467.27 L325.60 467.28 L326.00 467.29 L326.40 467.30 L326.80 467.31 L327.20 467.32 L327.60 467.33 L328.00 467.34 L328.40 467.35 L328.80 467.36 L329.20 467.37 L329.60 467.38 L330.00 467.39 L330.40 467.40 L330.80 467.41 L331.20 467.41 L331.60 467.42 L332.00 467.43 L332.40 467.44 L332.80 467.45 L333.20 467.46 L333.60 467.47 L334.00 467.48 L334.40 467.49 L334.80 467.50 L335.20 467.51 L335.60 467.51 L336.00 467.52 L336.40 467.53 L336.80 467.54 L337.20 467.55 L337.60 467.56 L338.00 467.57 L338.40 467.57 L338.80 467.58 L339.20 467.59 L339.60 467.60 L340.00 467.61 L340.40 467.62 L340.80 467.62 L341.20 467.63 L341.60 467.64 L342.00 467.65 L342.40 467.66 L342.80 467.66 L343.20 467.67 L343.60 467.68 L344.00 467.69 L344.40 467.70 L344.80 467.70 L345.20 467.71 L345.60 467.72 L346.00 467.73 L346.40 467.73 L346.80 467.74 L347.20 467.75 L347.60 467.76 L348.00 467.76 L348.40 467.77 L348.80 467.78 L349.20 467.79 L349.60 467.79 L350.00 467.80 L350.40 467.81 L350.80 467.81 L351.20 467.82 L351.60 467.83 L352.00 467.83 L352.40 467.84 L352.80 467.85 L353.20 467.86 L353.60 467.86 L354.00 467.87 L354.40 467.88 L354.80 467.88 L355.20 467.89 L355.60 467.90 L356.00 467.90 L356.40 467.91 L356.80 467.91 L357.20 467.92 L357.60 467.93 L358.00 467.93 L358.40 467.94 L358.80 467.95 L359.20 467.95 L359.60 467.96 L360.00 467.97 L360.40 467.97 L360.80 467.98 L361.20 467.98 L361.60 467.99 L362.00 468.00 L362.40 468.00 L362.80 468.01 L363.20 468.01 L363.60 468.02 L364.00 468.03 L364.40 468.03 L364.80 468.04 L365.20 468.04 L365.60 468.05 L366.00 468.05 L366.40 468.06 L366.80 468.07 L367.20 468.07 L367.60 468.08 L368.00 468.08 L368.40 468.09 L368.80 468.09 L369.20 468.10 L369.60 468.10 L370.00 468.11 L370.40 468.12 L370.80 468.12 L371.20 468.13 L371.60 468.13 L372.00 468.14 L372.40 468.14 L372.80 468.15 L373.20 468.15 L373.60 468.16 L374.00 468.16 L374.40 468.17 L374.80 468.17 L375.20 468.18 L375.60 468.18 L376.00 468.19 L376.40 468.19 L376.80 468.20 L377.20 468.20 L377.60 468.21 L378.00 468.21 L378.40 468.22 L378.80 468.22 L379.20 468.23 L379.60 468.23 L380.00 468.24 L380.40 468.24 L380.80 468.25 L381.20 468.25 L381.60 468.26 L382.00 468.26 L382.40 468.27 L382.80 468.27 L383.20 468.27 L383.60 468.28 L384.00 468.28 L384.40 468.29 L384.60 468.29" stroke="#0000ff"/>
<path d="M98.30 246.30 L98.70 244.47 L99.10 242.59 L99.50 240.69 L99.90 238.79 L100.30 236.93 L100.70 235.13 L101.10 233.41 L101.50 231.65 L101.90 229.97 L102.30 228.51 L102.70 227.37 L103.10 226.57 L103.50 226.03 L103.90 225.65 L104.30 225.40 L104.70 225.24 L105.10 225.21 L105.50 225.33 L105.90 225.66 L106.30 226.21 L106.70 227.00 L107.10 228.01 L107.50 229.24 L107.90 230.65 L108.30 232.23 L108.70 234.00 L109.10 235.95 L109.50 238.08 L109.90 240.36 L110.30 242.79 L110.70 245.35 L111.10 248.02 L111.50 250.80 L111.90 253.65 L112.30 256.55 L112.70 259.45 L113.10 262.35 L113.50 265.26 L113.90 268.20 L114.30 271.18 L114.70 274.21 L115.10 277.32 L115.50 280.52 L115.90 283.83 L116.30 287.27 L116.70 290.85 L117.10 294.59 L117.50 298.52 L117.90 302.62 L118.30 306.85 L118.70 311.18 L119.10 315.56 L119.50 319.96 L119.90 324.34 L120.30 328.67 L120.70 332.92 L121.10 337.06 L121.50 341.07 L121.90 344.92 L122.30 348.61 L122.70 352.12 L123.10 355.43 L123.50 358.61 L123.90 361.66 L124.30 364.60 L124.70 367.44 L125.10 370.17 L125.50 372.81 L125.90 375.36 L126.30 377.83 L126.70 380.22 L127.10 382.53 L127.50 384.77 L127.90 386.94 L128.30 389.05 L128.70 391.09 L129.10 393.08 L129.50 395.02 L129.90 396.91 L130.30 398.74 L130.70 400.53 L131.10 402.28 L131.50 403.98 L131.90 405.64 L132.30 407.25 L132.70 408.82 L133.10 410.34 L133.50 411.82 L133.90 413.26 L134.30 414.65 L134.70 416.00 L135.10 417.31 L135.50 418.58 L135.90 419.80 L136.30 420.99 L136.70 422.14 L137.10 423.25 L137.50 424.33 L137.90 425.37 L138.30 426.37 L138.70 427.34 L139.10 428.28 L139.50 429.19 L139.90 430.06 L140.30 430.91 L140.70 431.72 L141.10 432.51 L141.50 433.27 L141.90 434.01 L142.30 434.72 L142.70 435.41 L143.10 436.07 L143.50 436.72 L143.90 437.35 L144.30 437.96 L144.70 438.55 L145.10 439.12 L145.50 439.68 L145.90 440.23 L146.30 440.76 L146.70 441.27 L147.10 441.77 L147.50 442.26 L147.90 442.74 L148.30 443.20 L148.70 443.65 L149.10 444.10 L149.50 444.53 L149.90 444.95 L150.30 445.36 L150.70 445.77 L151.10 446.16 L151.50 446.55 L151.90 446.93 L152.30 447.30 L152.70 447.66 L153.10 448.02 L153.50 448.37 L153.90 448.71 L154.30 449.05 L154.70 449.38 L155.10 449.70 L155.50 450.02 L155.90 450.33 L156.30 450.64 L156.70 450.94 L157.10 451.24 L157.50 451.53 L157.90 451.81 L158.30 452.09 L158.70 452.37 L159.10 452.64 L159.50 452.90 L159.90 453.16 L160.30 453.41 L160.70 453.66 L161.10 453.90 L161.50 454.14 L161.90 454.38 L162.30 454.61 L162.70 454.83 L163.10 455.05 L163.50 455.26 L163.90 455.47 L164.30 455.68 L164.70 455.88 L165.10 456.08 L165.50 456.27 L165.90 456.46 L166.30 456.64 L166.70 456.82 L167.10 457.00 L167.50 457.17 L167.90 457.34 L168.30 457.51 L168.70 457.67 L169.10 457.82 L169.50 457.98 L169.90 458.13 L170.30 458.27 L170.70 458.42 L171.10 458.56 L171.50 458.69 L171.90 458.83 L172.30 458.96 L172.70 459.09 L173.10 459.21 L173.50 459.33 L173.90 459.45 L174.30 459.56 L174.70 459.68 L175.10 459.79 L175.50 459.90 L175.90 460.00 L176.30 460.11 L176.70 460.21 L177.10 460.31 L177.50 460.41 L177.90 460.50 L178.30 460.60 L178.70 460.69 L179.10 460.78 L179.50 460.87 L179.90 460.96 L180.30 461.05 L180.70 461.13 L181.10 461.22 L181.50 461.30 L181.90 461.38 L182.30 461.46 L182.70 461.54 L183.10 461.62 L183.50 461.70 L183.90 461.77 L184.30 461.84 L184.70 461.92 L185.10 461.99 L185.50 462.06 L185.90 462.13 L186.30 462.19 L186.70 462.26 L187.10 462.33 L187.50 462.39 L187.90 462.46 L188.30 462.52 L188.70 462.58 L189.10 462.64 L189.50 462.70 L189.90 462.76 L190.30 462.82 L190.70 462.88 L191.10 462.93 L191.50 462.99 L191.90 463.04 L192.30 463.10 L192.70 463.15 L193.10 463.20 L193.50 463.25 L193.90 463.30 L194.30 463.35 L194.70 463.40 L195.10 463.45 L195.50 463.50 L195.90 463.55 L196.30 463.59 L196.70 463.64 L197.10 463.69 L197.50 463.73 L197.90 463.78 L198.30 463.82 L198.70 463.86 L199.10 463.90 L199.50 463.95 L199.90 463.99 L200.30 464.03 L200.70 464.07 L201.10 464.11 L201.50 464.15 L201.90 464.18 L202.30 464.22 L202.70 464.26 L203.10 464.30 L203.50 464.33 L203.90 464.37 L204.30 464.40 L204.70 464.44 L205.10 464.47 L205.50 464.51 L205.90 464.54 L206.30 464.58 L206.70 464.61 L207.10 464.64 L207.50 464.67 L207.90 464.70 L208.30 464.74 L208.70 464.77 L209.10 464.80 L209.50 464.83 L209.90 464.86 L210.30 464.89 L210.70 464.91 L211.10 464.94 L211.50 464.97 L211.90 465.00 L212.30 465.03 L212.70 465.05 L213.10 465.08 L213.50 465.11 L213.90 465.13 L214.30 465.16 L214.70 465.19 L215.10 465.21 L215.50 465.24 L215.90 465.26 L216.30 465.29 L216.70 465.31 L217.10 465.33 L217.50 465.36 L217.90 465.38 L218.30 465.40 L218.70 465.43 L219.10 465.45 L219.50 465.47 L219.90 465.50 L220.30 465.52 L220.70 465.54 L221.10 465.56 L221.50 465.58 L221.90 465.60 L222.30 465.62 L222.70 465.65 L223.10 465.67 L223.50 465.69 L223.90 465.71 L224.30 465.73 L224.70 465.75 L225.10 465.77 L225.50 465.79 L225.90 465.81 L226.30 465.83 L226.70 465.84 L227.10 465.86 L227.50 465.88 L227.90 465.90 L228.30 465.92 L228.70 465.94 L229.10 465.96 L229.50 465.97 L229.90 465.99 L230.30 466.01 L230.70 466.03 L231.10 466.04 L231.50 466.06 L231.90 466.08 L232.30 466.10 L232.70 466.11 L233.10 466.13 L233.50 466.15 L233.90 466.16 L234.30 466.18 L234.70 466.19 L235.10 466.21 L235.50 466.23 L235.90 466.24 L236.30 466.26 L236.70 466.27 L237.10 466.29 L237.50 466.31 L237.90 466.32 L238.30 466.34 L238.70 466.35 L239.10 466.37 L239.50 466.38 L239.90 466.40 L240.30 466.41 L240.70 466.43 L241.10 466.44 L241.50 466.46 L241.90 466.47 L242.30 466.48 L242.70 466.50 L243.10 466.51 L243.50 466.53 L243.90 466.54 L244.30 466.56 L244.70 466.57 L245.10 466.58 L245.50 466.60 L245.90 466.61 L246.30 466.62 L246.70 466.64 L247.10 466.65 L247.50 466.66 L247.90 466.68 L248.30 466.69 L248.70 466.70 L249.10 466.72 L249.50 466.73 L249.90 466.74 L250.30 466.76 L250.70 466.77 L251.10 466.78 L251.50 466.79 L251.90 466.81 L252.30 466.82 L252.70 466.83 L253.10 466.84 L253.50 466.85 L253.90 466.87 L254.30 466.88 L254.70 466.89 L255.10 466.90 L255.50 466.91 L255.90 466.93 L256.30 466.94 L256.70 466.95 L257.10 466.96 L257.50 466.97 L257.90 466.98 L258.30 466.99 L258.70 467.00 L259.10 467.02 L259.50 467.03 L259.90 467.04 L260.30 467.05 L260.70 467.06 L261.10 467.07 L261.50 467.08 L261.90 467.09 L262.30 467.10 L262.70 467.11 L263.10 467.12 L263.50 467.13 L263.90 467.14 L264.30 467.15 L264.70 467.16 L265.10 467.17 L265.50 467.18 L265.90 467.19 L266.30 467.20 L266.70 467.21 L267.10 467.22 L267.50 467.23 L267.90 467.24 L268.30 467.25 L268.70 467.26 L269.10 467.27 L269.50 467.28 L269.90 467.29 L270.30 467.30 L270.70 467.30 L271.10 467.31 L271.50 467.32 L271.90 467.33 L272.30 467.34 L272.70 467.35 L273.10 467.36 L273.50 467.37 L273.90 467.38 L274.30 467.38 L274.70 467.39 L275.10 467.40 L275.50 467.41 L275.90 467.42 L276.30 467.43 L276.70 467.43 L277.10 467.44 L277.50 467.45 L277.90 467.46 L278.30 467.47 L278.70 467.47 L279.10 467.48 L279.50 467.49 L279.90 467.50 L280.30 467.51 L280.70 467.51 L281.10 467.52 L281.50 467.53 L281.90 467.54 L282.30 467.54 L282.70 467.55 L283.10 467.56 L283.50 467.57 L283.90 467.57 L284.30 467.58 L284.70 467.59 L285.10 467.59 L285.50 467.60 L285.90 467.61 L286.30 467.61 L286.70 467.62 L287.10 467.63 L287.50 467.64 L287.90 467.64 L288.30 467.65 L288.70 467.66 L289.10 467.66 L289.50 467.67 L289.90 467.68 L290.30 467.68 L290.70 467.69 L291.10 467.69 L291.50 467.70 L291.90 467.71 L292.30 467.71 L292.70 467.72 L293.10 467.73 L293.50 467.73 L293.90 467.74 L294.30 467.74 L294.70 467.75 L295.10 467.76 L295.50 467.76 L295.90 467.77 L296.30 467.77 L296.70 467.78 L297.10 467.79 L297.50 467.79 L297.90 467.80 L298.30 467.80 L298.70 467.81 L299.10 467.81 L299.50 467.82 L299.90 467.83 L300.30 467.83 L300.70 467.84 L301.10 467.84 L301.50 467.85 L301.90 467.85 L302.30 467.86 L302.70 467.86 L303.10 467.87 L303.50 467.87 L303.90 467.88 L304.30 467.88 L304.70 467.89 L305.10 467.89 L305.50 467.90 L305.90 467.90 L306.30 467.91 L306.70 467.91 L307.10 467.92 L307.50 467.93 L307.90 467.93 L308.30 467.93 L308.70 467.94 L309.10 467.94 L309.50 467.95 L309.90 467.95 L310.30 467.96 L310.70 467.96 L311.10 467.97 L311.50 467.97 L311.90 467.98 L312.30 467.98 L312.70 467.99 L313.10 467.99 L313.50 468.00 L313.90 468.00 L314.30 468.01 L314.70 468.01 L315.10 468.01 L315.50 468.02 L315.90 468.02 L316.30 468.03 L316.70 468.03 L317.10 468.04 L317.50 468.04 L317.90 468.05 L318.30 468.05 L318.70 468.05 L319.10 468.06 L319.50 468.06 L319.90 468.07 L320.30 468.07 L320.70 468.08 L321.10 468.08 L321.50 468.08 L321.90 468.09 L322.30 468.09 L322.70 468.10 L323.10 468.10 L323.50 468.10 L323.90 468.11 L324.30 468.11 L324.70 468.12 L325.10 468.12 L325.50 468.12 L325.90 468.13 L326.30 468.13 L326.70 468.14 L327.10 468.14 L327.50 468.14 L327.90 468.15 L328.30 468.15 L328.70 468.15 L329.10 468.16 L329.50 468.16 L329.90 468.17 L330.30 468.17 L330.70 468.17 L331.10 468.18 L331.50 468.18 L331.90 468.18 L332.30 468.19 L332.70 468.19 L333.10 468.19 L333.50 468.20 L333.90 468.20 L334.30 468.21 L334.70 468.21 L335.10 468.21 L335.50 468.22 L335.90 468.22 L336.30 468.22 L336.70 468.23 L337.10 468.23 L337.50 468.23 L337.90 468.24 L338.30 468.24 L338.70 468.24 L339.10 468.25 L339.50 468.25 L339.90 468.25 L340.30 468.26 L340.70 468.26 L341.10 468.26 L341.50 468.27 L341.90 468.27 L342.30 468.27 L342.70 468.27 L343.10 468.28 L343.50 468.28 L343.90 468.28 L344.30 468.29 L344.70 468.29 L345.10 468.29 L345.50 468.30 L345.90 468.30 L346.30 468.30 L346.70 468.31 L346.80 468.31" stroke="#008080"/>
<path d="M98.90 274.08 L99.30 277.37 L99.70 280.79 L100.10 284.33 L100.50 287.97 L100.90 291.69 L101.30 295.54 L101.70 299.63 L102.10 303.89 L102.50 308.26 L102.90 312.68 L103.30 317.09 L103.70 321.44 L104.10 325.68 L104.50 329.77 L104.90 333.68 L105.30 337.44 L105.70 341.15 L106.10 344.82 L106.50 348.41 L106.90 351.92 L107.30 355.34 L107.70 358.66 L108.10 361.85 L108.50 364.93 L108.90 367.88 L109.30 370.69 L109.70 373.36 L110.10 375.89 L110.50 378.30 L110.90 380.63 L111.30 382.86 L111.70 385.01 L112.10 387.09 L112.50 389.09 L112.90 391.02 L113.30 392.89 L113.70 394.71 L114.10 396.46 L114.50 398.17 L114.90 399.82 L115.30 401.43 L115.70 403.00 L116.10 404.53 L116.50 406.01 L116.90 407.46 L117.30 408.87 L117.70 410.25 L118.10 411.58 L118.50 412.88 L118.90 414.14 L119.30 415.37 L119.70 416.57 L120.10 417.73 L120.50 418.86 L120.90 419.96 L121.30 421.02 L121.70 422.06 L122.10 423.07 L122.50 424.04 L122.90 424.99 L123.30 425.91 L123.70 426.81 L124.10 427.67 L124.50 428.52 L124.90 429.35 L125.30 430.16 L125.70 430.95 L126.10 431.72 L126.50 432.47 L126.90 433.20 L127.30 433.92 L127.70 434.61 L128.10 435.29 L128.50 435.95 L128.90 436.60 L129.30 437.22 L129.70 437.83 L130.10 438.42 L130.50 439.00 L130.90 439.56 L131.30 440.10 L131.70 440.63 L132.10 441.14 L132.50 441.64 L132.90 442.12 L133.30 442.59 L133.70 443.04 L134.10 443.48 L134.50 443.90 L134.90 444.32 L135.30 444.72 L135.70 445.11 L136.10 445.50 L136.50 445.88 L136.90 446.24 L137.30 446.60 L137.70 446.95 L138.10 447.29 L138.50 447.62 L138.90 447.95 L139.30 448.26 L139.70 448.57 L140.10 448.88 L140.50 449.17 L140.90 449.46 L141.30 449.75 L141.70 450.02 L142.10 450.29 L142.50 450.56 L142.90 450.82 L143.30 451.07 L143.70 451.32 L144.10 451.56 L144.50 451.80 L144.90 452.04 L145.30 452.26 L145.70 452.49 L146.10 452.71 L146.50 452.92 L146.90 453.13 L147.30 453.34 L147.70 453.55 L148.10 453.75 L148.50 453.94 L148.90 454.14 L149.30 454.33 L149.70 454.51 L150.10 454.70 L150.50 454.87 L150.90 455.05 L151.30 455.22 L151.70 455.39 L152.10 455.56 L152.50 455.72 L152.90 455.88 L153.30 456.04 L153.70 456.20 L154.10 456.35 L154.50 456.50 L154.90 456.64 L155.30 456.78 L155.70 456.92 L156.10 457.06 L156.50 457.19 L156.90 457.33 L157.30 457.45 L157.70 457.58 L158.10 457.70 L158.50 457.82 L158.90 457.94 L159.30 458.06 L159.70 458.17 L160.10 458.28 L160.50 458.39 L160.90 458.50 L161.30 458.61 L161.70 458.71 L162.10 458.81 L162.50 458.91 L162.90 459.01 L163.30 459.10 L163.70 459.20 L164.10 459.29 L164.50 459.38 L164.90 459.47 L165.30 459.56 L165.70 459.65 L166.10 459.74 L166.50 459.82 L166.90 459.90 L167.30 459.99 L167.70 460.07 L168.10 460.15 L168.50 460.23 L168.90 460.30 L169.30 460.38 L169.70 460.46 L170.10 460.53 L170.50 460.60 L170.90 460.68 L171.30 460.75 L171.70 460.82 L172.10 460.89 L172.50 460.96 L172.90 461.02 L173.30 461.09 L173.70 461.16 L174.10 461.22 L174.50 461.29 L174.90 461.35 L175.30 461.42 L175.70 461.48 L176.10 461.54 L176.50 461.60 L176.90 461.66 L177.30 461.72 L177.70 461.78 L178.10 461.84 L178.50 461.90 L178.90 461.96 L179.30 462.02 L179.70 462.07 L180.10 462.13 L180.50 462.19 L180.90 462.24 L181.30 462.30 L181.70 462.35 L182.10 462.41 L182.50 462.46 L182.90 462.51 L183.30 462.57 L183.70 462.62 L184.10 462.67 L184.50 462.72 L184.90 462.77 L185.30 462.82 L185.70 462.87 L186.10 462.92 L186.50 462.97 L186.90 463.02 L187.30 463.07 L187.70 463.11 L188.10 463.16 L188.50 463.21 L188.90 463.25 L189.30 463.30 L189.70 463.34 L190.10 463.39 L190.50 463.43 L190.90 463.48 L191.30 463.52 L191.70 463.56 L192.10 463.60 L192.50 463.65 L192.90 463.69 L193.30 463.73 L193.70 463.77 L194.10 463.81 L194.50 463.85 L194.90 463.89 L195.30 463.93 L195.70 463.97 L196.10 464.01 L196.50 464.04 L196.90 464.08 L197.30 464.12 L197.70 464.16 L198.10 464.19 L198.50 464.23 L198.90 464.26 L199.30 464.30 L199.70 464.33 L200.10 464.37 L200.50 464.40 L200.90 464.44 L201.30 464.47 L201.70 464.50 L202.10 464.54 L202.50 464.57 L202.90 464.60 L203.30 464.63 L203.70 464.67 L204.10 464.70 L204.50 464.73 L204.90 464.76 L205.30 464.79 L205.70 464.82 L206.10 464.85 L206.50 464.88 L206.90 464.91 L207.30 464.94 L207.70 464.96 L208.10 464.99 L208.50 465.02 L208.90 465.05 L209.30 465.08 L209.70 465.10 L210.10 465.13 L210.50 465.16 L210.90 465.18 L211.30 465.21 L211.70 465.23 L212.10 465.26 L212.50 465.28 L212.90 465.31 L213.30 465.33 L213.70 465.36 L214.10 465.38 L214.50 465.41 L214.90 465.43 L215.30 465.45 L215.70 465.48 L216.10 465.50 L216.50 465.52 L216.90 465.55 L217.30 465.57 L217.70 465.59 L218.10 465.61 L218.50 465.64 L218.90 465.66 L219.30 465.68 L219.70 465.70 L220.10 465.72 L220.50 465.74 L220.90 465.76 L221.30 465.78 L221.70 465.80 L222.10 465.82 L222.50 465.84 L222.90 465.86 L223.30 465.88 L223.70 465.90 L224.10 465.92 L224.50 465.94 L224.90 465.96 L225.30 465.98 L225.70 466.00 L226.10 466.02 L226.50 466.04 L226.90 466.06 L227.30 466.07 L227.70 466.09 L228.10 466.11 L228.50 466.13 L228.90 466.15 L229.30 466.16 L229.70 466.18 L230.10 466.20 L230.50 466.22 L230.90 466.23 L231.30 466.25 L231.70 466.27 L232.10 466.28 L232.50 466.30 L232.90 466.32 L233.30 466.33 L233.70 466.35 L234.10 466.37 L234.50 466.38 L234.90 466.40 L235.30 466.41 L235.70 466.43 L236.10 466.45 L236.50 466.46 L236.90 466.48 L237.30 466.49 L237.70 466.51 L238.10 466.52 L238.50 466.54 L238.90 466.55 L239.30 466.57 L239.70 466.58 L240.10 466.60 L240.50 466.61 L240.90 466.62 L241.30 466.64 L241.70 466.65 L242.10 466.67 L242.50 466.68 L242.90 466.69 L243.30 466.71 L243.70 466.72 L244.10 466.74 L244.50 466.75 L244.90 466.76 L245.30 466.78 L245.70 466.79 L246.10 466.80 L246.50 466.82 L246.90 466.83 L247.30 466.84 L247.70 466.86 L248.10 466.87 L248.50 466.88 L248.90 466.89 L249.30 466.91 L249.70 466.92 L250.10 466.93 L250.50 466.94 L250.90 466.96 L251.30 466.97 L251.70 466.98 L252.10 466.99 L252.50 467.01 L252.90 467.02 L253.30 467.03 L253.70 467.04 L254.10 467.06 L254.50 467.07 L254.90 467.08 L255.30 467.09 L255.70 467.10 L256.10 467.12 L256.50 467.13 L256.90 467.14 L257.30 467.15 L257.70 467.16 L258.10 467.18 L258.50 467.19 L258.90 467.20 L259.30 467.21 L259.70 467.22 L260.10 467.23 L260.50 467.24 L260.90 467.26 L261.30 467.27 L261.70 467.28 L262.10 467.29 L262.50 467.30 L262.90 467.31 L263.30 467.32 L263.70 467.33 L264.10 467.34 L264.50 467.36 L264.90 467.37 L265.30 467.38 L265.70 467.39 L266.10 467.40 L266.50 467.41 L266.90 467.42 L267.30 467.43 L267.70 467.44 L268.10 467.45 L268.50 467.46 L268.90 467.47 L269.30 467.48 L269.70 467.49 L270.10 467.50 L270.50 467.51 L270.90 467.52 L271.30 467.53 L271.70 467.54 L272.10 467.55 L272.50 467.56 L272.90 467.57 L273.30 467.58 L273.70 467.59 L274.10 467.60 L274.50 467.60 L274.90 467.61 L275.30 467.62 L275.70 467.63 L276.10 467.64 L276.50 467.65 L276.90 467.66 L277.30 467.67 L277.70 467.67 L278.10 467.68 L278.50 467.69 L278.90 467.70 L279.30 467.71 L279.70 467.72 L280.10 467.72 L280.50 467.73 L280.90 467.74 L281.30 467.75 L281.70 467.76 L282.10 467.76 L282.50 467.77 L282.90 467.78 L283.30 467.79 L283.70 467.79 L284.10 467.80 L284.50 467.81 L284.90 467.82 L285.30 467.82 L285.70 467.83 L286.10 467.84 L286.50 467.84 L286.90 467.85 L287.30 467.86 L287.70 467.86 L288.10 467.87 L288.50 467.88 L288.90 467.88 L289.30 467.89 L289.70 467.90 L290.10 467.90 L290.50 467.91 L290.90 467.91 L291.30 467.92 L291.70 467.93 L292.10 467.93 L292.50 467.94 L292.90 467.94 L293.30 467.95 L293.70 467.95 L294.10 467.96 L294.50 467.96 L294.90 467.97 L295.30 467.97 L295.70 467.98 L296.10 467.98 L296.50 467.99 L296.90 467.99 L297.30 468.00 L297.70 468.00 L298.10 468.01 L298.50 468.01 L298.90 468.02 L299.30 468.02 L299.70 468.03 L300.10 468.03 L300.50 468.04 L300.90 468.04 L301.30 468.04 L301.70 468.05 L302.10 468.05 L302.50 468.06 L302.90 468.06 L303.30 468.06 L303.70 468.07 L304.10 468.07 L304.50 468.08 L304.90 468.08 L305.30 468.08 L305.70 468.09 L306.10 468.09 L306.50 468.10 L306.90 468.10 L307.30 468.10 L307.70 468.11 L308.10 468.11 L308.50 468.11 L308.90 468.12 L309.30 468.12 L309.70 468.13 L310.10 468.13 L310.50 468.13 L310.90 468.14 L311.30 468.14 L311.70 468.14 L312.10 468.15 L312.50 468.15 L312.90 468.15 L313.30 468.16 L313.70 468.16 L314.10 468.16 L314.50 468.17 L314.90 468.17 L315.30 468.17 L315.70 468.18 L316.10 468.18 L316.50 468.18 L316.90 468.19 L317.30 468.19 L317.70 468.19 L318.10 468.20 L318.50 468.20 L318.90 468.20 L319.30 468.20 L319.70 468.21 L320.10 468.21 L320.50 468.21 L320.90 468.22 L321.30 468.22 L321.70 468.22 L322.10 468.22 L322.50 468.23 L322.90 468.23 L323.30 468.23 L323.70 468.23 L324.10 468.24 L324.50 468.24 L324.90 468.24 L325.30 468.25 L325.70 468.25 L326.10 468.25 L326.50 468.25 L326.90 468.25 L327.30 468.26 L327.70 468.26 L328.10 468.26 L328.50 468.26 L328.90 468.27 L329.30 468.27 L329.70 468.27 L330.10 468.27 L330.50 468.28 L330.90 468.28 L331.30 468.28 L331.70 468.28 L332.10 468.28 L332.50 468.29 L332.90 468.29 L333.30 468.29 L333.70 468.29 L334.10 468.29 L334.50 468.29 L334.90 468.30 L335.30 468.30 L335.70 468.30 L335.80 468.30" stroke="#ff00ff"/>
<path d="M99.05 394.37 L99.45 396.13 L99.85 397.87 L100.25 399.59 L100.65 401.28 L101.05 402.95 L101.45 404.61 L101.85 406.26 L102.25 407.89 L102.65 409.49 L103.05 411.06 L103.45 412.59 L103.85 414.07 L104.25 415.50 L104.65 416.88 L105.05 418.20 L105.45 419.47 L105.85 420.71 L106.25 421.91 L106.65 423.08 L107.05 424.21 L107.45 425.30 L107.85 426.37 L108.25 427.40 L108.65 428.40 L109.05 429.37 L109.45 430.31 L109.85 431.21 L110.25 432.09 L110.65 432.95 L111.05 433.78 L111.45 434.59 L111.85 435.38 L112.25 436.15 L112.65 436.90 L113.05 437.62 L113.45 438.32 L113.85 438.99 L114.25 439.65 L114.65 440.28 L115.05 440.89 L115.45 441.48 L115.85 442.05 L116.25 442.59 L116.65 443.12 L117.05 443.64 L117.45 444.15 L117.85 444.64 L118.25 445.11 L118.65 445.58 L119.05 446.03 L119.45 446.46 L119.85 446.89 L120.25 447.30 L120.65 447.70 L121.05 448.09 L121.45 448.47 L121.85 448.83 L122.25 449.18 L122.65 449.52 L123.05 449.85 L123.45 450.17 L123.85 450.48 L124.25 450.78 L124.65 451.06 L125.05 451.34 L125.45 451.61 L125.85 451.87 L126.25 452.13 L126.65 452.37 L127.05 452.61 L127.45 452.85 L127.85 453.08 L128.25 453.30 L128.65 453.52 L129.05 453.73 L129.45 453.94 L129.85 454.14 L130.25 454.34 L130.65 454.54 L131.05 454.74 L131.45 454.93 L131.85 455.12 L132.25 455.30 L132.65 455.49 L133.05 455.67 L133.45 455.85 L133.85 456.03 L134.25 456.20 L134.65 456.38 L135.05 456.55 L135.45 456.72 L135.85 456.89 L136.25 457.05 L136.65 457.21 L137.05 457.37 L137.45 457.53 L137.85 457.68 L138.25 457.83 L138.65 457.98 L139.05 458.13 L139.45 458.27 L139.85 458.42 L140.25 458.56 L140.65 458.69 L141.05 458.83 L141.45 458.96 L141.85 459.10 L142.25 459.23 L142.65 459.35 L143.05 459.48 L143.45 459.60 L143.85 459.73 L144.25 459.85 L144.65 459.97 L145.05 460.08 L145.45 460.20 L145.85 460.31 L146.25 460.42 L146.65 460.53 L147.05 460.64 L147.45 460.75 L147.85 460.86 L148.25 460.97 L148.65 461.07 L149.05 461.17 L149.45 461.28 L149.85 461.38 L150.25 461.48 L150.65 461.58 L151.05 461.67 L151.45 461.77 L151.85 461.86 L152.25 461.96 L152.65 462.05 L153.05 462.14 L153.45 462.23 L153.85 462.31 L154.25 462.40 L154.65 462.48 L155.05 462.56 L155.45 462.64 L155.85 462.72 L156.25 462.80 L156.65 462.87 L157.05 462.94 L157.45 463.02 L157.85 463.09 L158.25 463.15 L158.65 463.22 L159.05 463.28 L159.45 463.35 L159.85 463.41 L160.25 463.47 L160.65 463.52 L161.05 463.58 L161.45 463.64 L161.85 463.69 L162.25 463.75 L162.65 463.80 L163.05 463.85 L163.45 463.90 L163.85 463.95 L164.25 464.00 L164.65 464.05 L165.05 464.10 L165.45 464.15 L165.85 464.20 L166.25 464.24 L166.65 464.29 L167.05 464.33 L167.45 464.37 L167.85 464.42 L168.25 464.46 L168.65 464.50 L169.05 464.54 L169.45 464.58 L169.85 464.62 L170.25 464.66 L170.65 464.70 L171.05 464.74 L171.45 464.78 L171.85 464.81 L172.25 464.85 L172.65 464.89 L173.05 464.92 L173.45 464.96 L173.85 464.99 L174.25 465.03 L174.65 465.06 L175.05 465.09 L175.45 465.13 L175.85 465.16 L176.25 465.19 L176.65 465.22 L177.05 465.26 L177.45 465.29 L177.85 465.32 L178.25 465.35 L178.65 465.38 L179.05 465.41 L179.45 465.44 L179.85 465.46 L180.25 465.49 L180.65 465.52 L181.05 465.55 L181.45 465.58 L181.85 465.61 L182.25 465.63 L182.65 465.66 L183.05 465.69 L183.45 465.72 L183.85 465.74 L184.25 465.77 L184.65 465.80 L185.05 465.82 L185.45 465.85 L185.85 465.87 L186.25 465.90 L186.65 465.92 L187.05 465.95 L187.45 465.97 L187.85 466.00 L188.25 466.02 L188.65 466.05 L189.05 466.07 L189.45 466.10 L189.85 466.12 L190.25 466.14 L190.65 466.17 L191.05 466.19 L191.45 466.21 L191.85 466.23 L192.25 466.25 L192.65 466.28 L193.05 466.30 L193.45 466.32 L193.85 466.34 L194.25 466.36 L194.65 466.38 L195.05 466.40 L195.45 466.42 L195.85 466.44 L196.25 466.46 L196.65 466.48 L197.05 466.50 L197.45 466.52 L197.85 466.54 L198.25 466.55 L198.65 466.57 L199.05 466.59 L199.45 466.61 L199.85 466.62 L200.25 466.64 L200.65 466.66 L201.05 466.67 L201.45 466.69 L201.85 466.70 L202.25 466.72 L202.65 466.73 L203.05 466.75 L203.45 466.76 L203.85 466.78 L204.25 466.79 L204.65 466.81 L205.05 466.82 L205.45 466.83 L205.85 466.84 L206.25 466.86 L206.65 466.87 L207.05 466.88 L207.45 466.89 L207.85 466.91 L208.25 466.92 L208.65 466.93 L209.05 466.94 L209.45 466.95 L209.85 466.96 L210.25 466.97 L210.65 466.98 L211.05 466.99 L211.45 467.00 L211.85 467.01 L212.25 467.02 L212.65 467.03 L213.05 467.03 L213.45 467.04 L213.85 467.05 L214.25 467.06 L214.65 467.07 L215.05 467.08 L215.45 467.09 L215.85 467.09 L216.25 467.10 L216.65 467.11 L217.05 467.12 L217.45 467.12 L217.85 467.13 L218.25 467.14 L218.65 467.15 L219.05 467.15 L219.45 467.16 L219.85 467.17 L220.25 467.18 L220.65 467.18 L221.05 467.19 L221.45 467.20 L221.85 467.20 L222.25 467.21 L222.65 467.22 L223.05 467.22 L223.45 467.23 L223.85 467.24 L224.25 467.24 L224.65 467.25 L225.05 467.26 L225.45 467.26 L225.85 467.27 L226.25 467.27 L226.65 467.28 L227.05 467.29 L227.45 467.29 L227.85 467.30 L228.25 467.30 L228.65 467.31 L229.05 467.31 L229.45 467.32 L229.85 467.33 L230.25 467.33 L230.65 467.34 L231.05 467.34 L231.45 467.35 L231.85 467.35 L232.25 467.36 L232.65 467.36 L233.05 467.37 L233.45 467.37 L233.85 467.38 L234.25 467.38 L234.65 467.39 L235.05 467.39 L235.45 467.40 L235.85 467.40 L236.25 467.41 L236.65 467.41 L237.05 467.42 L237.45 467.42 L237.85 467.43 L238.25 467.43 L238.65 467.44 L239.05 467.44 L239.45 467.45 L239.85 467.45 L240.25 467.46 L240.65 467.46 L241.05 467.47 L241.45 467.47 L241.85 467.48 L242.25 467.48 L242.65 467.49 L243.05 467.49 L243.45 467.50 L243.85 467.50 L244.25 467.51 L244.65 467.51 L245.05 467.52 L245.45 467.52 L245.85 467.53 L246.25 467.53 L246.65 467.54 L247.05 467.54 L247.45 467.55 L247.85 467.55 L248.25 467.56 L248.65 467.56 L249.05 467.57 L249.45 467.57 L249.85 467.58 L250.25 467.58 L250.65 467.59 L251.05 467.59 L251.45 467.60 L251.85 467.60 L252.25 467.61 L252.65 467.61 L253.05 467.62 L253.45 467.62 L253.85 467.62 L254.25 467.63 L254.65 467.63 L255.05 467.64 L255.45 467.64 L255.85 467.65 L256.25 467.65 L256.65 467.66 L257.05 467.66 L257.45 467.67 L257.85 467.67 L258.25 467.68 L258.65 467.68 L259.05 467.68 L259.45 467.69 L259.85 467.69 L260.25 467.70 L260.65 467.70 L261.05 467.71 L261.45 467.71 L261.85 467.72 L262.25 467.72 L262.65 467.72 L263.05 467.73 L263.45 467.73 L263.85 467.74 L264.25 467.74 L264.65 467.75 L265.05 467.75 L265.45 467.75 L265.85 467.76 L266.25 467.76 L266.65 467.77 L267.05 467.77 L267.45 467.77 L267.85 467.78 L268.25 467.78 L268.65 467.79 L269.05 467.79 L269.45 467.80 L269.85 467.80 L270.25 467.80 L270.65 467.81 L271.05 467.81 L271.45 467.82 L271.85 467.82 L272.25 467.82 L272.65 467.83 L273.05 467.83 L273.45 467.83 L273.85 467.84 L274.25 467.84 L274.65 467.85 L275.05 467.85 L275.45 467.85 L275.85 467.86 L276.25 467.86 L276.65 467.87 L277.05 467.87 L277.45 467.87 L277.85 467.88 L278.25 467.88 L278.65 467.89 L279.05 467.89 L279.45 467.89 L279.85 467.90 L280.25 467.90 L280.65 467.90 L281.05 467.91 L281.45 467.91 L281.85 467.92 L282.25 467.92 L282.65 467.92 L283.05 467.93 L283.45 467.93 L283.85 467.93 L284.25 467.94 L284.65 467.94 L285.05 467.94 L285.45 467.95 L285.85 467.95 L286.25 467.96 L286.65 467.96 L287.05 467.96 L287.45 467.97 L287.85 467.97 L288.25 467.97 L288.65 467.98 L289.05 467.98 L289.45 467.99 L289.85 467.99 L290.25 467.99 L290.65 468.00 L291.05 468.00 L291.45 468.00 L291.85 468.01 L292.25 468.01 L292.65 468.01 L293.05 468.02 L293.45 468.02 L293.85 468.02 L294.25 468.03 L294.65 468.03 L295.05 468.04 L295.45 468.04 L295.85 468.04 L296.25 468.05 L296.65 468.05 L297.05 468.05 L297.45 468.06 L297.85 468.06 L298.25 468.06 L298.65 468.07 L299.05 468.07 L299.45 468.07 L299.85 468.08 L300.25 468.08 L300.65 468.09 L301.05 468.09 L301.45 468.09 L301.85 468.10 L302.25 468.10 L302.65 468.10 L303.05 468.11 L303.45 468.11 L303.85 468.11 L304.25 468.12 L304.65 468.12 L305.05 468.12 L305.45 468.13 L305.85 468.13 L306.25 468.14 L306.65 468.14 L307.05 468.14 L307.45 468.15 L307.85 468.15 L308.25 468.15 L308.65 468.16 L309.05 468.16 L309.45 468.16 L309.85 468.17 L310.25 468.17 L310.65 468.17 L311.05 468.18 L311.45 468.18 L311.85 468.18 L312.25 468.19 L312.65 468.19 L313.05 468.19 L313.45 468.20 L313.85 468.20 L314.25 468.20 L314.65 468.21 L315.05 468.21 L315.45 468.21 L315.85 468.22 L316.25 468.22 L316.65 468.22 L317.05 468.23 L317.45 468.23 L317.85 468.23 L318.25 468.24 L318.65 468.24 L319.05 468.24 L319.45 468.25 L319.85 468.25 L320.25 468.25 L320.65 468.26 L321.05 468.26 L321.45 468.26 L321.85 468.27 L322.25 468.27 L322.65 468.27 L323.05 468.28 L323.45 468.28 L323.85 468.28 L324.25 468.29 L324.65 468.29 L324.80 468.29" stroke="#808000"/>
</g>
<text x="87.4" y="474.10" font-size="16.5" text-anchor="end">0.0</text>
<text x="87.4" y="423.50" font-size="16.5" text-anchor="end">0.1</text>
<text x="87.4" y="372.90" font-size="16.5" text-anchor="end">0.2</text>
<text x="87.4" y="322.30" font-size="16.5" text-anchor="end">0.3</text>
<text x="87.4" y="271.70" font-size="16.5" text-anchor="end">0.4</text>
<text x="87.4" y="221.10" font-size="16.5" text-anchor="end">0.5</text>
<text x="98.20" y="491.0" font-size="16.5" text-anchor="middle">0</text>
<text x="152.20" y="491.0" font-size="16.5" text-anchor="middle">1</text>
<text x="206.20" y="491.0" font-size="16.5" text-anchor="middle">2</text>
<text x="260.20" y="491.0" font-size="16.5" text-anchor="middle">3</text>
<text x="314.20" y="491.0" font-size="16.5" text-anchor="middle">4</text>
<text x="368.20" y="491.0" font-size="16.5" text-anchor="middle">5</text>
<text transform="translate(52.9 343.2) rotate(-90)" font-size="17.5" text-anchor="middle">-d&lt;nd&gt;/dV</text>
<text x="253" y="511" font-size="17.5">V/4</text>
<text class="sf" transform="translate(279.3 511) scale(1.13 1)" font-size="16">&#915;</text>
<g stroke="#000" stroke-width="1.0" fill="none">
<path d="M285.0 193.3 L285.0 339.3 L416 339.3"/>
<path d="M285.0 339.00 h3.2"/>
<path d="M285.0 321.20 h2.0"/>
<path d="M285.0 303.40 h3.2"/>
<path d="M285.0 285.60 h2.0"/>
<path d="M285.0 267.80 h3.2"/>
<path d="M285.0 250.00 h2.0"/>
<path d="M285.0 232.20 h3.2"/>
<path d="M285.0 214.40 h2.0"/>
<path d="M285.0 196.60 h3.2"/>
<path d="M286.60 339.3 v-3.2"/>
<path d="M298.20 339.3 v-2.0"/>
<path d="M309.80 339.3 v-3.2"/>
<path d="M321.40 339.3 v-2.0"/>
<path d="M333.00 339.3 v-3.2"/>
<path d="M344.60 339.3 v-2.0"/>
<path d="M356.20 339.3 v-3.2"/>
<path d="M367.80 339.3 v-2.0"/>
<path d="M379.40 339.3 v-3.2"/>
<path d="M391.00 339.3 v-2.0"/>
<path d="M402.60 339.3 v-3.2"/>
<path d="M414.20 339.3 v-2.0"/>
</g>
<g fill="none" stroke-linecap="round" stroke-linejoin="round" stroke-width="3.00">
<path d="M286.90 198.69 L287.30 198.68 L287.70 198.68 L288.10 198.68 L288.50 198.67 L288.90 198.67 L289.30 198.66 L289.70 198.66 L290.10 198.66 L290.50 198.66 L290.90 198.65 L291.30 198.65 L291.70 198.65 L292.10 198.64 L292.50 198.64 L292.90 198.64 L293.30 198.64 L293.70 198.63 L294.10 198.63 L294.50 198.63 L294.90 198.63 L295.30 198.63 L295.70 198.63 L296.10 198.62 L296.50 198.62 L296.90 198.62 L297.30 198.62 L297.70 198.62 L298.10 198.62 L298.50 198.62 L298.90 198.62 L299.30 198.61 L299.70 198.61 L300.10 198.61 L300.50 198.61 L300.90 198.61 L301.30 198.61 L301.70 198.61 L302.10 198.61 L302.50 198.61 L302.90 198.61 L303.30 198.61 L303.70 198.61 L304.10 198.61 L304.50 198.61 L304.90 198.61 L305.30 198.61 L305.70 198.61 L306.10 198.61 L306.50 198.61 L306.90 198.61 L307.30 198.61 L307.70 198.61 L308.10 198.61 L308.50 198.61 L308.90 198.61 L309.30 198.61 L309.70 198.61 L310.10 198.61 L310.50 198.61 L310.90 198.61 L311.30 198.61 L311.70 198.62 L312.10 198.62 L312.50 198.63 L312.90 198.63 L313.30 198.64 L313.70 198.65 L314.10 198.66 L314.50 198.67 L314.90 198.68 L315.30 198.69 L315.70 198.71 L316.10 198.72 L316.50 198.73 L316.90 198.75 L317.30 198.77 L317.70 198.78 L318.10 198.80 L318.50 198.82 L318.90 198.84 L319.30 198.86 L319.70 198.88 L320.10 198.90 L320.50 198.92 L320.90 198.94 L321.30 198.96 L321.70 198.99 L322.10 199.01 L322.50 199.03 L322.90 199.06 L323.30 199.08 L323.70 199.11 L324.10 199.13 L324.50 199.16 L324.90 199.19 L325.30 199.21 L325.70 199.25 L326.10 199.28 L326.50 199.32 L326.90 199.36 L327.30 199.41 L327.70 199.46 L328.10 199.51 L328.50 199.57 L328.90 199.63 L329.30 199.70 L329.70 199.77 L330.10 199.84 L330.50 199.92 L330.90 200.01 L331.30 200.10 L331.70 200.19 L332.10 200.29 L332.50 200.41 L332.90 200.55 L333.30 200.72 L333.70 200.91 L334.10 201.11 L334.50 201.34 L334.90 201.58 L335.30 201.84 L335.70 202.12 L336.10 202.40 L336.50 202.70 L336.90 203.01 L337.30 203.34 L337.70 203.71 L338.10 204.12 L338.50 204.57 L338.90 205.06 L339.30 205.58 L339.70 206.12 L340.10 206.69 L340.50 207.28 L340.90 207.89 L341.30 208.52 L341.70 209.22 L342.10 209.98 L342.50 210.78 L342.90 211.61 L343.30 212.48 L343.70 213.36 L344.10 214.25 L344.50 215.15 L344.90 216.04 L345.30 216.93 L345.70 217.86 L346.10 218.81 L346.50 219.79 L346.90 220.78 L347.30 221.76 L347.70 222.73 L348.10 223.67 L348.50 224.59 L348.90 225.46 L349.30 226.29 L349.70 227.12 L350.10 227.96 L350.50 228.77 L350.90 229.57 L351.30 230.34 L351.70 231.07 L352.10 231.75 L352.50 232.38 L352.90 232.94 L353.30 233.44 L353.70 233.93 L354.10 234.41 L354.50 234.87 L354.90 235.30 L355.30 235.72 L355.70 236.11 L356.10 236.48 L356.50 236.82 L356.90 237.13 L357.30 237.40 L357.70 237.64 L358.10 237.85 L358.50 238.03 L358.90 238.21 L359.30 238.38 L359.70 238.54 L360.10 238.69 L360.50 238.84 L360.90 238.98 L361.30 239.10 L361.70 239.23 L362.10 239.34 L362.50 239.45 L362.90 239.55 L363.30 239.65 L363.70 239.74 L364.10 239.83 L364.50 239.90 L364.90 239.98 L365.30 240.05 L365.70 240.12 L366.10 240.18 L366.50 240.25 L366.90 240.31 L367.30 240.37 L367.70 240.43 L368.10 240.48 L368.50 240.54 L368.90 240.59 L369.30 240.64 L369.70 240.69 L370.10 240.74 L370.50 240.79 L370.90 240.83 L371.30 240.88 L371.70 240.92 L372.10 240.96 L372.50 241.01 L372.90 241.05 L373.30 241.08 L373.70 241.12 L374.10 241.16 L374.50 241.20 L374.90 241.23 L375.30 241.27 L375.70 241.30 L376.10 241.34 L376.50 241.37 L376.90 241.40 L377.30 241.44 L377.70 241.47 L378.10 241.50 L378.50 241.53 L378.90 241.56 L379.30 241.59 L379.70 241.62 L380.10 241.65 L380.50 241.68 L380.90 241.71 L381.30 241.74 L381.70 241.77 L382.10 241.79 L382.50 241.82 L382.90 241.85 L383.30 241.87 L383.70 241.90 L384.10 241.92 L384.50 241.95 L384.90 241.97 L385.30 242.00 L385.70 242.02 L386.10 242.04 L386.50 242.07 L386.90 242.09 L387.30 242.11 L387.70 242.13 L388.10 242.16 L388.50 242.18 L388.90 242.20 L389.30 242.22 L389.70 242.24 L390.10 242.26 L390.50 242.28 L390.90 242.31 L391.30 242.33 L391.70 242.35 L392.10 242.37 L392.50 242.39 L392.90 242.41 L393.30 242.43 L393.70 242.45 L394.10 242.47 L394.50 242.49 L394.90 242.51 L395.30 242.53 L395.70 242.55 L396.10 242.57 L396.50 242.59 L396.90 242.61 L397.30 242.63 L397.70 242.65 L398.10 242.67 L398.50 242.69 L398.90 242.71 L399.30 242.73 L399.70 242.75 L400.10 242.77 L400.50 242.79 L400.90 242.81 L401.30 242.83 L401.70 242.85 L402.10 242.87 L402.50 242.88 L402.90 242.90 L403.30 242.92 L403.70 242.94 L404.10 242.96 L404.50 242.98 L404.90 242.99 L405.30 243.01 L405.70 243.03 L406.10 243.05 L406.50 243.06 L406.90 243.08 L407.30 243.10 L407.70 243.12 L408.10 243.13 L408.50 243.15 L408.90 243.17 L409.30 243.18 L409.70 243.20 L410.10 243.22 L410.50 243.23 L410.90 243.25 L411.30 243.26 L411.70 243.28 L412.10 243.30 L412.50 243.31 L412.90 243.33 L413.30 243.34 L413.70 243.36 L414.10 243.37 L414.50 243.39 L414.90 243.40 L415.30 243.41 L415.70 243.43 L416.00 243.44" stroke="#000000"/>
<path d="M286.90 199.29 L287.30 199.29 L287.70 199.29 L288.10 199.29 L288.50 199.30 L288.90 199.30 L289.30 199.30 L289.70 199.31 L290.10 199.31 L290.50 199.31 L290.90 199.32 L291.30 199.32 L291.70 199.33 L292.10 199.33 L292.50 199.34 L292.90 199.35 L293.30 199.35 L293.70 199.36 L294.10 199.37 L294.50 199.37 L294.90 199.38 L295.30 199.39 L295.70 199.40 L296.10 199.41 L296.50 199.42 L296.90 199.42 L297.30 199.43 L297.70 199.44 L298.10 199.45 L298.50 199.46 L298.90 199.47 L299.30 199.48 L299.70 199.49 L300.10 199.50 L300.50 199.51 L300.90 199.53 L301.30 199.54 L301.70 199.55 L302.10 199.56 L302.50 199.57 L302.90 199.58 L303.30 199.59 L303.70 199.61 L304.10 199.62 L304.50 199.63 L304.90 199.64 L305.30 199.65 L305.70 199.67 L306.10 199.68 L306.50 199.70 L306.90 199.71 L307.30 199.73 L307.70 199.74 L308.10 199.76 L308.50 199.78 L308.90 199.80 L309.30 199.82 L309.70 199.84 L310.10 199.87 L310.50 199.89 L310.90 199.92 L311.30 199.94 L311.70 199.97 L312.10 200.00 L312.50 200.03 L312.90 200.06 L313.30 200.09 L313.70 200.12 L314.10 200.16 L314.50 200.19 L314.90 200.23 L315.30 200.27 L315.70 200.32 L316.10 200.37 L316.50 200.42 L316.90 200.49 L317.30 200.55 L317.70 200.62 L318.10 200.70 L318.50 200.78 L318.90 200.87 L319.30 200.96 L319.70 201.06 L320.10 201.16 L320.50 201.26 L320.90 201.37 L321.30 201.48 L321.70 201.60 L322.10 201.72 L322.50 201.86 L322.90 202.01 L323.30 202.17 L323.70 202.35 L324.10 202.54 L324.50 202.75 L324.90 202.97 L325.30 203.20 L325.70 203.46 L326.10 203.72 L326.50 204.00 L326.90 204.29 L327.30 204.61 L327.70 204.98 L328.10 205.40 L328.50 205.85 L328.90 206.35 L329.30 206.88 L329.70 207.43 L330.10 208.02 L330.50 208.62 L330.90 209.24 L331.30 209.88 L331.70 210.59 L332.10 211.35 L332.50 212.16 L332.90 213.01 L333.30 213.89 L333.70 214.79 L334.10 215.70 L334.50 216.62 L334.90 217.54 L335.30 218.47 L335.70 219.45 L336.10 220.47 L336.50 221.51 L336.90 222.57 L337.30 223.63 L337.70 224.67 L338.10 225.68 L338.50 226.65 L338.90 227.57 L339.30 228.45 L339.70 229.33 L340.10 230.21 L340.50 231.08 L340.90 231.92 L341.30 232.72 L341.70 233.48 L342.10 234.18 L342.50 234.81 L342.90 235.35 L343.30 235.83 L343.70 236.29 L344.10 236.73 L344.50 237.15 L344.90 237.54 L345.30 237.92 L345.70 238.27 L346.10 238.59 L346.50 238.89 L346.90 239.16 L347.30 239.40 L347.70 239.60 L348.10 239.78 L348.50 239.93 L348.90 240.08 L349.30 240.22 L349.70 240.36 L350.10 240.48 L350.50 240.60 L350.90 240.71 L351.30 240.82 L351.70 240.92 L352.10 241.02 L352.50 241.11 L352.90 241.20 L353.30 241.28 L353.70 241.36 L354.10 241.44 L354.50 241.52 L354.90 241.59 L355.30 241.67 L355.70 241.74 L356.10 241.81 L356.50 241.89 L356.90 241.96 L357.30 242.03 L357.70 242.10 L358.10 242.17 L358.50 242.24 L358.90 242.31 L359.30 242.37 L359.70 242.44 L360.10 242.50 L360.50 242.57 L360.90 242.63 L361.30 242.69 L361.70 242.75 L362.10 242.81 L362.50 242.87 L362.90 242.93 L363.30 242.98 L363.70 243.04 L364.10 243.09 L364.50 243.14 L364.90 243.19 L365.30 243.24 L365.70 243.29 L366.10 243.34 L366.50 243.38 L366.90 243.43 L367.30 243.47 L367.70 243.51 L368.10 243.54 L368.50 243.58 L368.90 243.62 L369.30 243.65 L369.70 243.68 L370.10 243.71 L370.50 243.74 L370.90 243.76 L371.30 243.79 L371.70 243.82 L372.10 243.84 L372.50 243.87 L372.90 243.89 L373.30 243.92 L373.70 243.94 L374.10 243.96 L374.50 243.99 L374.90 244.01 L375.30 244.03 L375.70 244.05 L376.10 244.07 L376.50 244.10 L376.90 244.12 L377.30 244.14 L377.70 244.16 L378.10 244.17 L378.50 244.19 L378.90 244.21 L379.30 244.23 L379.70 244.25 L380.10 244.27 L380.50 244.28 L380.90 244.30 L381.30 244.32 L381.70 244.33 L382.10 244.35 L382.50 244.36 L382.90 244.38 L383.30 244.40 L383.70 244.41 L384.10 244.43 L384.50 244.44 L384.90 244.46 L385.30 244.47 L385.70 244.48 L386.10 244.50 L386.50 244.51 L386.90 244.53 L387.30 244.54 L387.70 244.55 L388.10 244.57 L388.50 244.58 L388.90 244.60 L389.30 244.61 L389.70 244.62 L390.10 244.64 L390.50 244.65 L390.90 244.66 L391.30 244.68 L391.70 244.69 L392.10 244.70 L392.50 244.72 L392.90 244.73 L393.30 244.74 L393.70 244.76 L394.10 244.77 L394.50 244.78 L394.90 244.80 L395.30 244.81 L395.70 244.82 L396.10 244.83 L396.50 244.85 L396.90 244.86 L397.30 244.87 L397.70 244.88 L398.10 244.90 L398.50 244.91 L398.90 244.92 L399.30 244.93 L399.70 244.94 L400.10 244.96 L400.50 244.97 L400.90 244.98 L401.30 244.99 L401.70 245.00 L402.10 245.01 L402.50 245.02 L402.90 245.03 L403.30 245.05 L403.70 245.06 L404.10 245.07 L404.50 245.08 L404.90 245.09 L405.30 245.10 L405.70 245.11 L406.10 245.12 L406.50 245.13 L406.90 245.14 L407.30 245.15 L407.70 245.16 L408.10 245.17 L408.50 245.17 L408.90 245.18 L409.30 245.19 L409.70 245.20 L410.10 245.21 L410.50 245.22 L410.90 245.23 L411.30 245.23 L411.70 245.24 L412.10 245.25 L412.50 245.26 L412.90 245.26 L413.30 245.27 L413.70 245.28 L414.10 245.29 L414.50 245.29 L414.90 245.30 L415.30 245.31 L415.70 245.31 L416.00 245.32" stroke="#ff0000"/>
<path d="M286.90 200.56 L287.30 200.58 L287.70 200.59 L288.10 200.61 L288.50 200.63 L288.90 200.66 L289.30 200.69 L289.70 200.72 L290.10 200.75 L290.50 200.79 L290.90 200.82 L291.30 200.86 L291.70 200.90 L292.10 200.94 L292.50 200.99 L292.90 201.03 L293.30 201.08 L293.70 201.12 L294.10 201.17 L294.50 201.21 L294.90 201.27 L295.30 201.32 L295.70 201.39 L296.10 201.45 L296.50 201.53 L296.90 201.61 L297.30 201.69 L297.70 201.78 L298.10 201.88 L298.50 201.99 L298.90 202.10 L299.30 202.23 L299.70 202.37 L300.10 202.55 L300.50 202.74 L300.90 202.95 L301.30 203.19 L301.70 203.44 L302.10 203.72 L302.50 204.01 L302.90 204.32 L303.30 204.65 L303.70 205.05 L304.10 205.50 L304.50 206.00 L304.90 206.55 L305.30 207.13 L305.70 207.74 L306.10 208.38 L306.50 209.04 L306.90 209.71 L307.30 210.41 L307.70 211.18 L308.10 212.00 L308.50 212.87 L308.90 213.77 L309.30 214.71 L309.70 215.67 L310.10 216.63 L310.50 217.60 L310.90 218.55 L311.30 219.51 L311.70 220.49 L312.10 221.51 L312.50 222.54 L312.90 223.59 L313.30 224.62 L313.70 225.65 L314.10 226.65 L314.50 227.62 L314.90 228.55 L315.30 229.45 L315.70 230.35 L316.10 231.25 L316.50 232.14 L316.90 233.01 L317.30 233.84 L317.70 234.64 L318.10 235.38 L318.50 236.06 L318.90 236.67 L319.30 237.21 L319.70 237.74 L320.10 238.25 L320.50 238.74 L320.90 239.21 L321.30 239.65 L321.70 240.07 L322.10 240.46 L322.50 240.83 L322.90 241.16 L323.30 241.46 L323.70 241.73 L324.10 241.96 L324.50 242.17 L324.90 242.37 L325.30 242.57 L325.70 242.75 L326.10 242.93 L326.50 243.09 L326.90 243.25 L327.30 243.40 L327.70 243.55 L328.10 243.68 L328.50 243.81 L328.90 243.93 L329.30 244.04 L329.70 244.15 L330.10 244.25 L330.50 244.35 L330.90 244.44 L331.30 244.52 L331.70 244.60 L332.10 244.68 L332.50 244.76 L332.90 244.83 L333.30 244.91 L333.70 244.98 L334.10 245.04 L334.50 245.11 L334.90 245.17 L335.30 245.24 L335.70 245.30 L336.10 245.35 L336.50 245.41 L336.90 245.47 L337.30 245.52 L337.70 245.57 L338.10 245.62 L338.50 245.67 L338.90 245.71 L339.30 245.76 L339.70 245.80 L340.10 245.84 L340.50 245.89 L340.90 245.93 L341.30 245.96 L341.70 246.00 L342.10 246.04 L342.50 246.07 L342.90 246.11 L343.30 246.14 L343.70 246.18 L344.10 246.21 L344.50 246.24 L344.90 246.28 L345.30 246.31 L345.70 246.34 L346.10 246.37 L346.50 246.40 L346.90 246.43 L347.30 246.46 L347.70 246.49 L348.10 246.52 L348.50 246.55 L348.90 246.58 L349.30 246.60 L349.70 246.63 L350.10 246.66 L350.50 246.68 L350.90 246.71 L351.30 246.73 L351.70 246.76 L352.10 246.78 L352.50 246.80 L352.90 246.83 L353.30 246.85 L353.70 246.87 L354.10 246.89 L354.50 246.91 L354.90 246.93 L355.30 246.95 L355.70 246.97 L356.10 246.99 L356.50 247.01 L356.90 247.03 L357.30 247.05 L357.70 247.07 L358.10 247.08 L358.50 247.10 L358.90 247.11 L359.30 247.13 L359.70 247.15 L360.10 247.16 L360.50 247.17 L360.90 247.19 L361.30 247.20 L361.70 247.22 L362.10 247.23 L362.50 247.25 L362.90 247.26 L363.30 247.27 L363.70 247.29 L364.10 247.30 L364.50 247.32 L364.90 247.33 L365.30 247.35 L365.70 247.36 L366.10 247.37 L366.50 247.39 L366.90 247.40 L367.30 247.41 L367.70 247.43 L368.10 247.44 L368.50 247.45 L368.90 247.46 L369.30 247.48 L369.70 247.49 L370.10 247.50 L370.50 247.51 L370.90 247.53 L371.30 247.54 L371.70 247.55 L372.10 247.56 L372.50 247.57 L372.90 247.58 L373.30 247.59 L373.70 247.60 L374.10 247.61 L374.50 247.62 L374.90 247.63 L375.30 247.64 L375.70 247.65 L376.10 247.66 L376.50 247.67 L376.90 247.68 L377.30 247.69 L377.70 247.69 L378.10 247.70 L378.50 247.71 L378.90 247.71 L379.30 247.72 L379.70 247.73 L380.10 247.73 L380.50 247.74 L380.90 247.74 L381.30 247.75 L381.70 247.75 L382.10 247.76 L382.50 247.76 L382.90 247.76 L383.30 247.77 L383.70 247.77 L384.10 247.77 L384.50 247.77 L384.90 247.77 L385.30 247.78 L385.70 247.78 L386.10 247.78 L386.50 247.78 L386.90 247.78 L387.30 247.78 L387.70 247.78 L388.10 247.78 L388.50 247.78 L388.90 247.78 L389.30 247.78 L389.70 247.79 L390.10 247.79 L390.50 247.79 L390.90 247.79 L391.30 247.79 L391.70 247.79 L392.10 247.79 L392.50 247.79 L392.90 247.79 L393.30 247.79 L393.70 247.79 L394.10 247.79 L394.50 247.79 L394.90 247.80 L395.30 247.80 L395.70 247.80 L396.10 247.80 L396.50 247.80 L396.90 247.80 L397.30 247.80 L397.70 247.80 L398.10 247.80 L398.50 247.80 L398.90 247.80 L399.30 247.80 L399.70 247.80 L400.10 247.80 L400.50 247.80 L400.90 247.80 L401.30 247.80 L401.70 247.80 L402.10 247.80 L402.50 247.81 L402.90 247.81 L403.30 247.81 L403.70 247.81 L404.10 247.81 L404.50 247.81 L404.90 247.81 L405.30 247.81 L405.70 247.81 L406.10 247.81 L406.50 247.81 L406.90 247.81 L407.30 247.81 L407.70 247.81 L408.10 247.81 L408.50 247.81 L408.90 247.81 L409.30 247.81 L409.60 247.81" stroke="#00ff00"/>
<path d="M286.90 235.70 L287.30 237.08 L287.70 238.44 L288.10 239.77 L288.50 241.08 L288.90 242.36 L289.30 243.61 L289.70 244.83 L290.10 246.03 L290.50 247.22 L290.90 248.40 L291.30 249.56 L291.70 250.70 L292.10 251.79 L292.50 252.84 L292.90 253.83 L293.30 254.77 L293.70 255.64 L294.10 256.45 L294.50 257.22 L294.90 257.96 L295.30 258.67 L295.70 259.34 L296.10 259.97 L296.50 260.57 L296.90 261.13 L297.30 261.65 L297.70 262.13 L298.10 262.57 L298.50 262.98 L298.90 263.37 L299.30 263.74 L299.70 264.09 L300.10 264.43 L300.50 264.74 L300.90 265.04 L301.30 265.32 L301.70 265.59 L302.10 265.84 L302.50 266.08 L302.90 266.30 L303.30 266.51 L303.70 266.71 L304.10 266.90 L304.50 267.09 L304.90 267.26 L305.30 267.43 L305.70 267.59 L306.10 267.74 L306.50 267.89 L306.90 268.04 L307.30 268.17 L307.70 268.31 L308.10 268.44 L308.50 268.57 L308.90 268.69 L309.30 268.81 L309.70 268.93 L310.10 269.04 L310.50 269.16 L310.90 269.27 L311.30 269.38 L311.70 269.49 L312.10 269.60 L312.50 269.70 L312.90 269.81 L313.30 269.91 L313.70 270.00 L314.10 270.10 L314.50 270.19 L314.90 270.28 L315.30 270.37 L315.70 270.46 L316.10 270.54 L316.50 270.62 L316.90 270.70 L317.30 270.77 L317.70 270.84 L318.10 270.91 L318.50 270.97 L318.90 271.03 L319.30 271.09 L319.70 271.15 L320.10 271.20 L320.50 271.25 L320.90 271.30 L321.30 271.35 L321.70 271.40 L322.10 271.44 L322.50 271.49 L322.90 271.53 L323.30 271.58 L323.70 271.62 L324.10 271.66 L324.50 271.70 L324.90 271.74 L325.30 271.78 L325.70 271.82 L326.10 271.85 L326.50 271.89 L326.90 271.93 L327.30 271.96 L327.70 271.99 L328.10 272.03 L328.50 272.06 L328.90 272.09 L329.30 272.12 L329.70 272.15 L330.10 272.18 L330.50 272.20 L330.90 272.23 L331.30 272.26 L331.70 272.28 L332.10 272.31 L332.50 272.33 L332.90 272.35 L333.30 272.38 L333.70 272.40 L334.10 272.42 L334.50 272.44 L334.90 272.46 L335.30 272.48 L335.70 272.50 L336.10 272.51 L336.50 272.53 L336.90 272.55 L337.30 272.57 L337.70 272.58 L338.10 272.60 L338.50 272.62 L338.90 272.63 L339.30 272.65 L339.70 272.66 L340.10 272.68 L340.50 272.69 L340.90 272.71 L341.30 272.72 L341.70 272.74 L342.10 272.75 L342.50 272.76 L342.90 272.78 L343.30 272.79 L343.70 272.80 L344.10 272.81 L344.50 272.83 L344.90 272.84 L345.30 272.85 L345.70 272.86 L346.10 272.87 L346.50 272.89 L346.90 272.90 L347.30 272.91 L347.70 272.92 L348.10 272.93 L348.50 272.94 L348.90 272.95 L349.30 272.96 L349.70 272.97 L350.10 272.98 L350.50 272.99 L350.90 273.00 L351.30 273.02 L351.70 273.03 L352.10 273.04 L352.50 273.05 L352.90 273.06 L353.30 273.06 L353.70 273.07 L354.10 273.08 L354.50 273.09 L354.90 273.10 L355.30 273.11 L355.70 273.12 L356.10 273.13 L356.50 273.14 L356.90 273.15 L357.30 273.16 L357.70 273.17 L358.10 273.18 L358.50 273.19 L358.90 273.20 L359.30 273.21 L359.70 273.22 L360.10 273.23 L360.50 273.24 L360.90 273.25 L361.30 273.26 L361.70 273.27 L362.10 273.28 L362.50 273.29 L362.90 273.30 L363.30 273.31 L363.70 273.32 L364.10 273.32 L364.50 273.33 L364.90 273.34 L365.30 273.35 L365.70 273.36 L366.10 273.37 L366.50 273.38 L366.90 273.39 L367.30 273.40 L367.70 273.41 L368.10 273.42 L368.50 273.42 L368.90 273.43 L369.30 273.44 L369.70 273.45 L370.10 273.46 L370.50 273.47 L370.90 273.48 L371.30 273.48 L371.70 273.49 L372.10 273.50 L372.50 273.51 L372.90 273.52 L373.30 273.53 L373.70 273.54 L374.10 273.54 L374.50 273.55 L374.90 273.56 L375.30 273.57 L375.70 273.58 L376.10 273.58 L376.50 273.59 L376.90 273.60 L377.30 273.61 L377.70 273.62 L378.10 273.62 L378.50 273.63 L378.90 273.64 L379.30 273.65 L379.70 273.65 L380.10 273.66 L380.50 273.67 L380.90 273.68 L381.30 273.68 L381.70 273.69 L382.10 273.70 L382.50 273.70 L382.90 273.71 L383.30 273.72 L383.70 273.73 L384.10 273.73 L384.50 273.74 L384.90 273.75 L385.30 273.75 L385.70 273.76 L386.10 273.77 L386.50 273.78 L386.90 273.78 L387.30 273.79 L387.70 273.80 L388.10 273.80 L388.50 273.81 L388.90 273.81 L389.30 273.82 L389.70 273.83 L390.10 273.83 L390.50 273.84 L390.90 273.85 L391.30 273.85 L391.70 273.86 L392.10 273.87 L392.50 273.87 L392.90 273.88 L393.00 273.88" stroke="#0000ff"/>
<path d="M286.90 285.10 L287.30 286.01 L287.70 286.86 L288.10 287.66 L288.50 288.42 L288.90 289.12 L289.30 289.78 L289.70 290.41 L290.10 290.99 L290.50 291.54 L290.90 292.05 L291.30 292.54 L291.70 293.01 L292.10 293.44 L292.50 293.86 L292.90 294.25 L293.30 294.62 L293.70 294.97 L294.10 295.31 L294.50 295.62 L294.90 295.93 L295.30 296.22 L295.70 296.49 L296.10 296.75 L296.50 297.00 L296.90 297.24 L297.30 297.46 L297.70 297.67 L298.10 297.87 L298.50 298.06 L298.90 298.24 L299.30 298.41 L299.70 298.58 L300.10 298.74 L300.50 298.89 L300.90 299.04 L301.30 299.18 L301.70 299.31 L302.10 299.44 L302.50 299.56 L302.90 299.67 L303.30 299.78 L303.70 299.89 L304.10 299.99 L304.50 300.08 L304.90 300.18 L305.30 300.26 L305.70 300.35 L306.10 300.44 L306.50 300.52 L306.90 300.59 L307.30 300.67 L307.70 300.74 L308.10 300.81 L308.50 300.88 L308.90 300.95 L309.30 301.01 L309.70 301.08 L310.10 301.14 L310.50 301.20 L310.90 301.26 L311.30 301.32 L311.70 301.37 L312.10 301.43 L312.50 301.48 L312.90 301.53 L313.30 301.59 L313.70 301.64 L314.10 301.69 L314.50 301.73 L314.90 301.78 L315.30 301.83 L315.70 301.87 L316.10 301.92 L316.50 301.96 L316.90 302.00 L317.30 302.04 L317.70 302.08 L318.10 302.12 L318.50 302.15 L318.90 302.19 L319.30 302.22 L319.70 302.26 L320.10 302.29 L320.50 302.32 L320.90 302.35 L321.30 302.38 L321.70 302.42 L322.10 302.45 L322.50 302.47 L322.90 302.50 L323.30 302.53 L323.70 302.56 L324.10 302.59 L324.50 302.62 L324.90 302.64 L325.30 302.67 L325.70 302.69 L326.10 302.72 L326.50 302.74 L326.90 302.77 L327.30 302.79 L327.70 302.82 L328.10 302.84 L328.50 302.86 L328.90 302.88 L329.30 302.90 L329.70 302.93 L330.10 302.95 L330.50 302.97 L330.90 302.99 L331.30 303.00 L331.70 303.02 L332.10 303.04 L332.50 303.06 L332.90 303.08 L333.30 303.09 L333.70 303.11 L334.10 303.12 L334.50 303.14 L334.90 303.15 L335.30 303.17 L335.70 303.18 L336.10 303.19 L336.50 303.21 L336.90 303.22 L337.30 303.23 L337.70 303.24 L338.10 303.26 L338.50 303.27 L338.90 303.28 L339.30 303.29 L339.70 303.30 L340.10 303.31 L340.50 303.32 L340.90 303.33 L341.30 303.35 L341.70 303.36 L342.10 303.37 L342.50 303.38 L342.90 303.39 L343.30 303.40 L343.70 303.40 L344.10 303.41 L344.50 303.42 L344.90 303.43 L345.30 303.44 L345.70 303.45 L346.10 303.46 L346.50 303.47 L346.90 303.48 L347.30 303.48 L347.70 303.49 L348.10 303.50 L348.50 303.51 L348.90 303.52 L349.30 303.53 L349.70 303.53 L350.10 303.54 L350.50 303.55 L350.90 303.56 L351.30 303.57 L351.70 303.57 L352.10 303.58 L352.50 303.59 L352.90 303.60 L353.30 303.60 L353.70 303.61 L354.10 303.62 L354.50 303.63 L354.90 303.64 L355.30 303.64 L355.70 303.65 L356.10 303.66 L356.50 303.67 L356.90 303.67 L357.30 303.68 L357.70 303.69 L358.10 303.70 L358.50 303.71 L358.90 303.72 L359.30 303.72 L359.70 303.73 L360.10 303.74 L360.50 303.75 L360.90 303.76 L361.30 303.77 L361.70 303.77 L362.10 303.78 L362.50 303.79 L362.90 303.80 L363.30 303.81 L363.70 303.81 L364.10 303.82 L364.50 303.83 L364.90 303.84 L365.30 303.85 L365.70 303.86 L366.10 303.86 L366.50 303.87 L366.90 303.88 L367.30 303.89 L367.70 303.90 L368.10 303.90 L368.50 303.91 L368.90 303.92 L369.30 303.93 L369.70 303.93 L370.10 303.94 L370.50 303.95 L370.90 303.96 L371.30 303.97 L371.70 303.97 L372.10 303.98 L372.50 303.99 L372.90 304.00 L373.30 304.00 L373.70 304.01 L374.10 304.02 L374.50 304.03 L374.90 304.03 L375.30 304.04 L375.70 304.05 L376.10 304.06 L376.50 304.06 L376.90 304.07 L377.30 304.08 L377.70 304.09 L378.10 304.09 L378.50 304.10 L378.90 304.11 L379.30 304.12 L379.70 304.12 L380.10 304.13 L380.50 304.14 L380.90 304.14 L381.30 304.15 L381.70 304.16 L382.10 304.17 L382.50 304.17 L382.90 304.18 L383.30 304.19 L383.70 304.19 L384.10 304.20 L384.50 304.21 L384.90 304.21 L385.30 304.22 L385.70 304.23 L386.10 304.24 L386.50 304.24 L386.90 304.25 L387.30 304.26 L387.70 304.26 L388.10 304.27 L388.50 304.28 L388.50 304.28" stroke="#00ffff"/>
<path d="M286.60 310.60 L287.00 310.96 L287.40 311.31 L287.80 311.64 L288.20 311.96 L288.60 312.26 L289.00 312.54 L289.40 312.81 L289.80 313.07 L290.20 313.31 L290.60 313.54 L291.00 313.77 L291.40 313.98 L291.80 314.19 L292.20 314.38 L292.60 314.56 L293.00 314.74 L293.40 314.90 L293.80 315.06 L294.20 315.20 L294.60 315.34 L295.00 315.47 L295.40 315.59 L295.80 315.71 L296.20 315.82 L296.60 315.93 L297.00 316.03 L297.40 316.12 L297.80 316.21 L298.20 316.29 L298.60 316.37 L299.00 316.44 L299.40 316.52 L299.80 316.58 L300.20 316.65 L300.60 316.71 L301.00 316.77 L301.40 316.83 L301.80 316.89 L302.20 316.94 L302.60 316.99 L303.00 317.04 L303.40 317.10 L303.80 317.14 L304.20 317.19 L304.60 317.24 L305.00 317.28 L305.40 317.33 L305.80 317.37 L306.20 317.41 L306.60 317.45 L307.00 317.49 L307.40 317.53 L307.80 317.57 L308.20 317.61 L308.60 317.64 L309.00 317.68 L309.40 317.72 L309.80 317.75 L310.20 317.79 L310.60 317.82 L311.00 317.85 L311.40 317.89 L311.80 317.92 L312.20 317.95 L312.60 317.99 L313.00 318.02 L313.40 318.05 L313.80 318.08 L314.20 318.11 L314.60 318.14 L315.00 318.17 L315.40 318.20 L315.80 318.23 L316.20 318.26 L316.60 318.28 L317.00 318.31 L317.40 318.34 L317.80 318.36 L318.20 318.39 L318.60 318.42 L319.00 318.44 L319.40 318.47 L319.80 318.49 L320.20 318.52 L320.60 318.54 L321.00 318.56 L321.40 318.59 L321.80 318.61 L322.20 318.64 L322.60 318.66 L323.00 318.68 L323.40 318.71 L323.80 318.73 L324.20 318.75 L324.60 318.78 L325.00 318.80 L325.40 318.82 L325.80 318.84 L326.20 318.86 L326.60 318.89 L327.00 318.91 L327.40 318.93 L327.80 318.95 L328.20 318.97 L328.60 318.99 L329.00 319.01 L329.40 319.03 L329.80 319.04 L330.20 319.06 L330.60 319.08 L331.00 319.10 L331.40 319.11 L331.80 319.13 L332.20 319.15 L332.60 319.16 L333.00 319.18 L333.40 319.19 L333.80 319.21 L334.20 319.22 L334.60 319.23 L335.00 319.24 L335.40 319.26 L335.80 319.27 L336.20 319.28 L336.60 319.29 L337.00 319.30 L337.40 319.31 L337.80 319.32 L338.20 319.33 L338.60 319.35 L339.00 319.36 L339.40 319.37 L339.80 319.38 L340.20 319.39 L340.60 319.39 L341.00 319.40 L341.40 319.41 L341.80 319.42 L342.20 319.43 L342.60 319.44 L343.00 319.45 L343.40 319.46 L343.80 319.47 L344.20 319.47 L344.60 319.48 L345.00 319.49 L345.40 319.50 L345.80 319.51 L346.20 319.51 L346.60 319.52 L347.00 319.53 L347.40 319.54 L347.80 319.55 L348.20 319.55 L348.60 319.56 L349.00 319.57 L349.40 319.57 L349.80 319.58 L350.20 319.59 L350.60 319.60 L351.00 319.60 L351.40 319.61 L351.80 319.62 L352.20 319.62 L352.60 319.63 L353.00 319.64 L353.40 319.64 L353.80 319.65 L354.20 319.66 L354.60 319.66 L355.00 319.67 L355.40 319.68 L355.80 319.68 L356.20 319.69 L356.60 319.70 L357.00 319.70 L357.40 319.71 L357.80 319.72 L358.20 319.72 L358.60 319.73 L359.00 319.74 L359.40 319.74 L359.80 319.75 L360.20 319.76 L360.60 319.76 L361.00 319.77 L361.40 319.77 L361.80 319.78 L362.20 319.79 L362.60 319.79 L363.00 319.80 L363.40 319.81 L363.80 319.81 L364.20 319.82 L364.60 319.83 L365.00 319.83 L365.40 319.84 L365.80 319.84 L366.20 319.85 L366.60 319.86 L367.00 319.86 L367.40 319.87 L367.80 319.87 L368.20 319.88 L368.60 319.89 L369.00 319.89 L369.40 319.90 L369.80 319.90 L370.20 319.91 L370.60 319.91 L371.00 319.92 L371.40 319.93 L371.80 319.93 L372.20 319.94 L372.60 319.94 L373.00 319.95 L373.40 319.95 L373.80 319.96 L374.20 319.96 L374.60 319.97 L375.00 319.98 L375.40 319.98 L375.80 319.99 L376.20 319.99 L376.60 320.00 L377.00 320.00 L377.40 320.01 L377.80 320.01 L378.20 320.02 L378.60 320.02 L379.00 320.03 L379.40 320.03 L379.80 320.04 L380.20 320.04 L380.60 320.05 L381.00 320.05 L381.40 320.06 L381.80 320.06 L382.20 320.07 L382.60 320.07 L383.00 320.08 L383.40 320.08 L383.70 320.08" stroke="#ff00ff"/>
</g>
<text x="282.9" y="340.70" font-size="11" text-anchor="end">0.00</text>
<text x="282.9" y="305.10" font-size="11" text-anchor="end">0.25</text>
<text x="282.9" y="269.50" font-size="11" text-anchor="end">0.50</text>
<text x="282.9" y="233.90" font-size="11" text-anchor="end">0.75</text>
<text x="282.9" y="198.70" font-size="11" text-anchor="end">1.00</text>
<text x="286.60" y="350.9" font-size="11.6" text-anchor="middle">0</text>
<text x="309.80" y="350.9" font-size="11.6" text-anchor="middle">1</text>
<text x="333.00" y="350.9" font-size="11.6" text-anchor="middle">2</text>
<text x="356.20" y="350.9" font-size="11.6" text-anchor="middle">3</text>
<text x="379.40" y="350.9" font-size="11.6" text-anchor="middle">4</text>
<text x="402.60" y="350.9" font-size="11.6" text-anchor="middle">5</text>
<text transform="translate(256 234.6) rotate(-90)" font-size="15.2" text-anchor="middle">&lt;nd&gt;</text>
<text x="325.0" y="367.5" font-size="15.2">V/4</text>
<text class="sf" transform="translate(347.7 367.5) scale(1.0 1)" font-size="14.6">&#915;</text>
<rect x="400.4" y="261.5" width="20" height="65.9" fill="#fff" stroke="#555" stroke-width="0.9"/>
<g fill="none" stroke-linecap="round" stroke-width="2.9">
<path d="M405.3 268.10 H420" stroke="#000000"/>
<path d="M405.3 278.74 H420" stroke="#ff0000"/>
<path d="M405.3 289.38 H420" stroke="#00ff00"/>
<path d="M405.3 300.02 H420" stroke="#0000ff"/>
<path d="M405.3 310.66 H420" stroke="#00ffff"/>
<path d="M405.3 321.30 H420" stroke="#ff00ff"/>
</g>
<rect x="375.3" y="355.45" width="45" height="103.1" fill="#fff" stroke="#333" stroke-width="0.85"/>
<g fill="none" stroke-linecap="round" stroke-width="3.9">
<path d="M383.2 370.80 H405.2" stroke="#000000"/>
<path d="M383.2 386.63 H405.2" stroke="#ff0000"/>
<path d="M383.2 402.46 H405.2" stroke="#0000ff"/>
<path d="M383.2 418.29 H405.2" stroke="#008080"/>
<path d="M383.2 434.12 H405.2" stroke="#ff00ff"/>
<path d="M383.2 449.95 H405.2" stroke="#808000"/>
</g>
<path transform="translate(0 0.00) translate(410.7 372.4) scale(1.08 1.1) translate(-410.7 -372.4)" d="M412.25 371.15 C411.7 370.25 409.3 370.05 409.35 371.3 C409.4 372.25 410.6 372.3 411.1 372.3 C410.2 372.3 408.95 372.6 409.0 373.55 C409.1 374.85 411.8 374.7 412.45 373.65" fill="none" stroke="#000" stroke-width="0.95" stroke-linecap="round"/>
<text class="sf" x="412.6" y="378.40" font-size="7.5" fill="#3a3a3a">d</text>
<path transform="translate(0 15.83) translate(410.7 372.4) scale(1.08 1.1) translate(-410.7 -372.4)" d="M412.25 371.15 C411.7 370.25 409.3 370.05 409.35 371.3 C409.4 372.25 410.6 372.3 411.1 372.3 C410.2 372.3 408.95 372.6 409.0 373.55 C409.1 374.85 411.8 374.7 412.45 373.65" fill="none" stroke="#000" stroke-width="0.95" stroke-linecap="round"/>
<text class="sf" x="412.6" y="394.23" font-size="7.5" fill="#3a3a3a">d</text>
<path transform="translate(0 31.66) translate(410.7 372.4) scale(1.08 1.1) translate(-410.7 -372.4)" d="M412.25 371.15 C411.7 370.25 409.3 370.05 409.35 371.3 C409.4 372.25 410.6 372.3 411.1 372.3 C410.2 372.3 408.95 372.6 409.0 373.55 C409.1 374.85 411.8 374.7 412.45 373.65" fill="none" stroke="#000" stroke-width="0.95" stroke-linecap="round"/>
<text class="sf" x="412.6" y="410.06" font-size="7.5" fill="#3a3a3a">d</text>
<path transform="translate(0 47.49) translate(410.7 372.4) scale(1.08 1.1) translate(-410.7 -372.4)" d="M412.25 371.15 C411.7 370.25 409.3 370.05 409.35 371.3 C409.4 372.25 410.6 372.3 411.1 372.3 C410.2 372.3 408.95 372.6 409.0 373.55 C409.1 374.85 411.8 374.7 412.45 373.65" fill="none" stroke="#000" stroke-width="0.95" stroke-linecap="round"/>
<text class="sf" x="412.6" y="425.89" font-size="7.5" fill="#3a3a3a">d</text>
<path transform="translate(0 63.32) translate(410.7 372.4) scale(1.08 1.1) translate(-410.7 -372.4)" d="M412.25 371.15 C411.7 370.25 409.3 370.05 409.35 371.3 C409.4 372.25 410.6 372.3 411.1 372.3 C410.2 372.3 408.95 372.6 409.0 373.55 C409.1 374.85 411.8 374.7 412.45 373.65" fill="none" stroke="#000" stroke-width="0.95" stroke-linecap="round"/>
<text class="sf" x="412.6" y="441.72" font-size="7.5" fill="#3a3a3a">d</text>
<path transform="translate(0 79.15) translate(410.7 372.4) scale(1.08 1.1) translate(-410.7 -372.4)" d="M412.25 371.15 C411.7 370.25 409.3 370.05 409.35 371.3 C409.4 372.25 410.6 372.3 411.1 372.3 C410.2 372.3 408.95 372.6 409.0 373.55 C409.1 374.85 411.8 374.7 412.45 373.65" fill="none" stroke="#000" stroke-width="0.95" stroke-linecap="round"/>
<text class="sf" x="412.6" y="457.55" font-size="7.5" fill="#3a3a3a">d</text>
</svg></body></html>
